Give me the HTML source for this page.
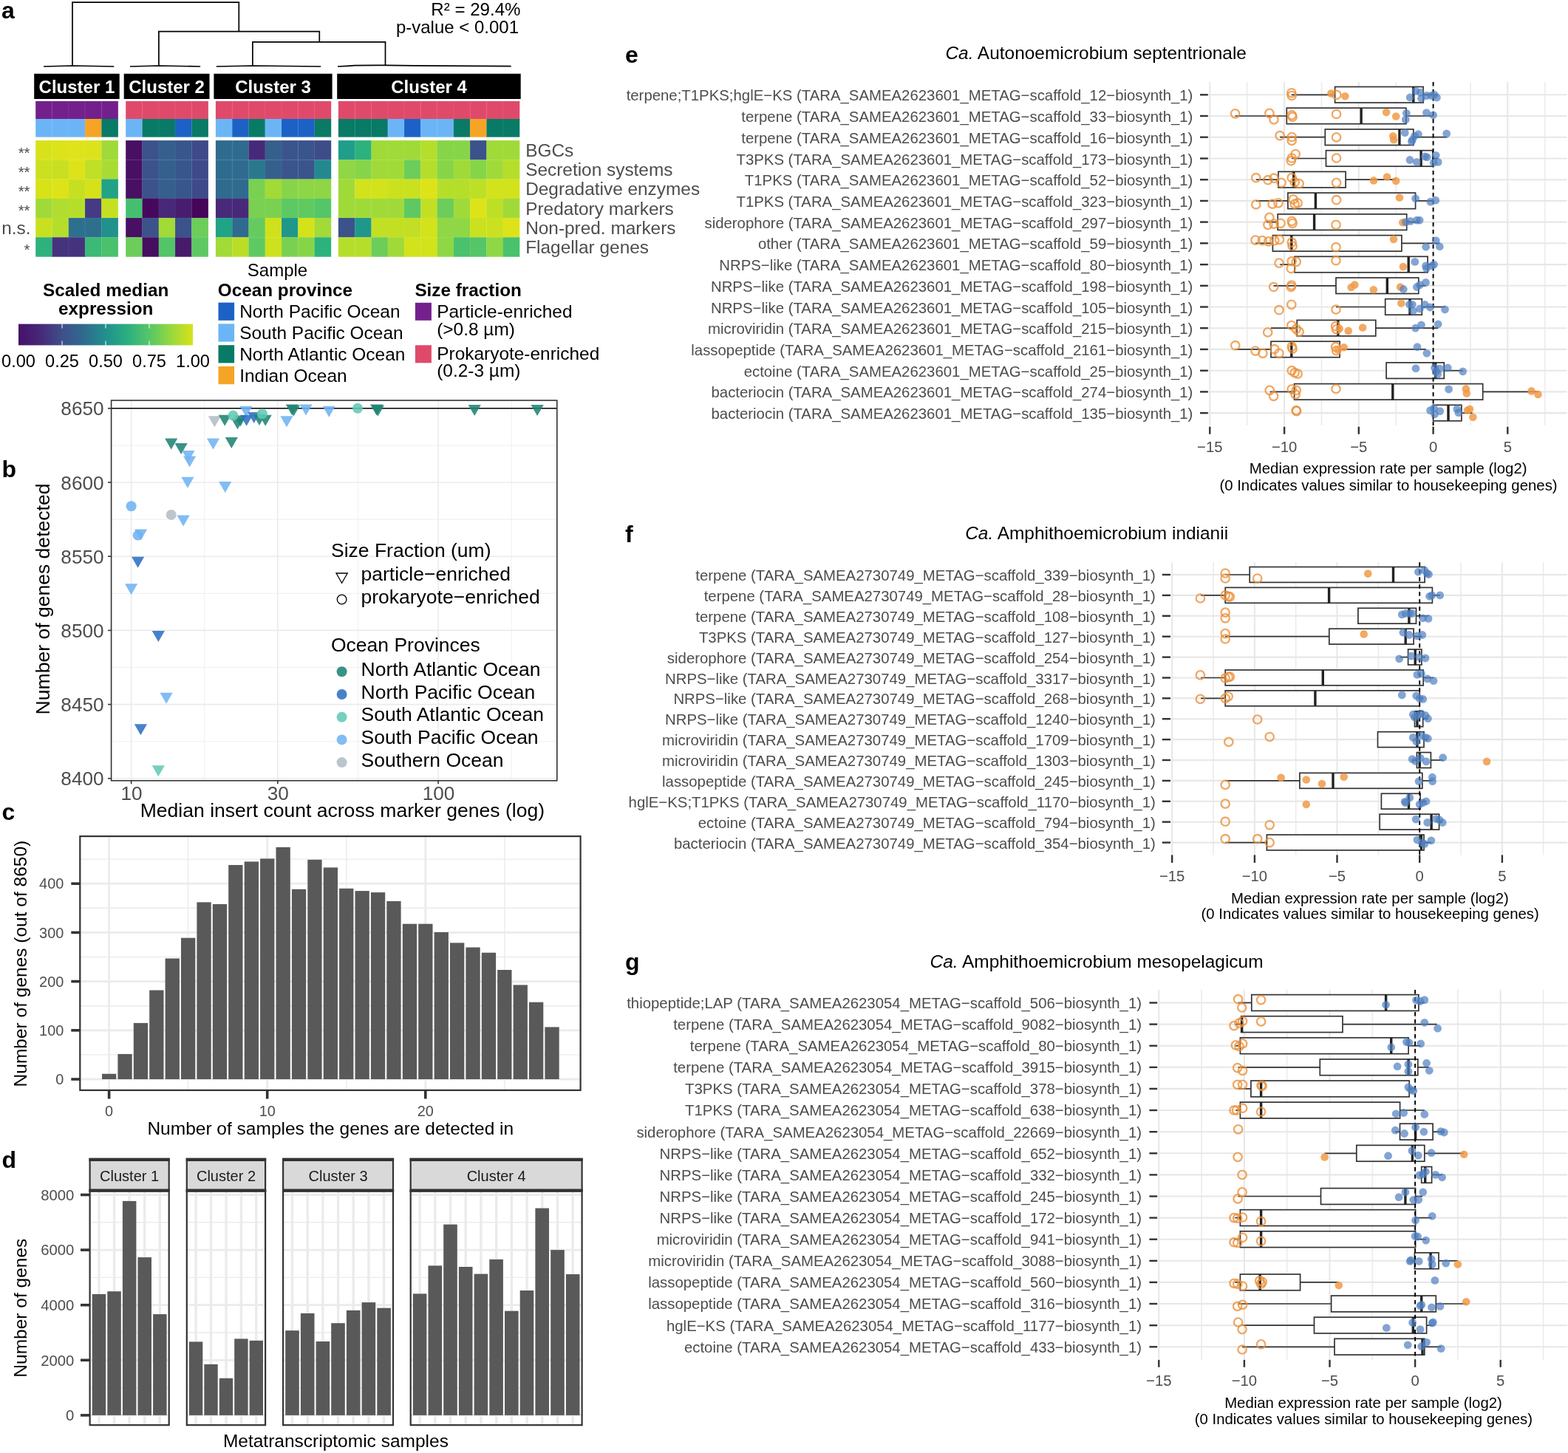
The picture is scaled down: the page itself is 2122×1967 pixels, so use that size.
<!DOCTYPE html>
<html><head><meta charset="utf-8"><title>Figure</title>
<style>
html,body{margin:0;padding:0;background:#fff;}
svg{display:block;}
text{font-family:'Liberation Sans', Arial, Helvetica, sans-serif;}
</style></head>
<body>
<svg width="2122" height="1967" viewBox="0 0 2122 1967">
<rect x="0" y="0" width="2122" height="1967" fill="#fff"/>
<text x="2.0" y="24.8" font-size="32" font-weight="bold">a</text>
<text x="2.5" y="645.8" font-size="32" font-weight="bold">b</text>
<text x="2.5" y="1110.0" font-size="32" font-weight="bold">c</text>
<text x="2.5" y="1580.8" font-size="32" font-weight="bold">d</text>
<text x="846.0" y="84.8" font-size="32" font-weight="bold">e</text>
<text x="846.0" y="733.8" font-size="32" font-weight="bold">f</text>
<text x="846.0" y="1313.0" font-size="32" font-weight="bold">g</text>
<polyline points="98.0,89.5 98.0,3.2 323.3,3.2 323.3,42.7" fill="none" stroke="#000" stroke-width="1.7"/>
<polyline points="214.9,89.5 214.9,42.7 432.3,42.7 432.3,56.8" fill="none" stroke="#000" stroke-width="1.7"/>
<polyline points="341.9,89.5 341.9,56.8 521.5,56.8 521.5,88.5" fill="none" stroke="#000" stroke-width="1.7"/>
<polyline points="59.1,90.0 98.0,89.0 154.3,90.0" fill="none" stroke="#000" stroke-width="1.7"/>
<polyline points="176.0,90.0 214.9,89.0 271.1,90.0" fill="none" stroke="#000" stroke-width="1.7"/>
<polyline points="292.8,90.0 341.9,89.0 434.2,90.0" fill="none" stroke="#000" stroke-width="1.7"/>
<polyline points="457.0,90.0 470.0,89.3 480.0,88.6 521.5,88.3 560.0,88.8 600.0,89.2 691.6,89.6" fill="none" stroke="#000" stroke-width="1.7"/>
<rect x="46.2" y="99.8" width="115.5" height="34.2" fill="#000"/>
<text x="103.9" y="125.6" font-size="24.0" text-anchor="middle" font-weight="bold" fill="#fff">Cluster 1</text>
<rect x="167.7" y="99.8" width="115.8" height="34.2" fill="#000"/>
<text x="225.6" y="125.6" font-size="24.0" text-anchor="middle" font-weight="bold" fill="#fff">Cluster 2</text>
<rect x="289.4" y="99.8" width="160.2" height="34.2" fill="#000"/>
<text x="369.5" y="125.6" font-size="24.0" text-anchor="middle" font-weight="bold" fill="#fff">Cluster 3</text>
<rect x="456.2" y="99.8" width="248.5" height="34.2" fill="#000"/>
<text x="580.5" y="125.6" font-size="24.0" text-anchor="middle" font-weight="bold" fill="#fff">Cluster 4</text>
<rect x="48.2" y="136.9" width="22.6" height="24.2" fill="#74208c"/>
<rect x="48.2" y="161.0" width="22.6" height="24.6" fill="#6bb5f7"/>
<rect x="48.2" y="190.1" width="22.6" height="26.5" fill="#d8e21b"/>
<rect x="48.2" y="216.3" width="22.6" height="26.5" fill="#cbe01e"/>
<rect x="48.2" y="242.5" width="22.6" height="26.5" fill="#d8e219"/>
<rect x="48.2" y="268.8" width="22.6" height="26.5" fill="#a0da39"/>
<rect x="48.2" y="295.0" width="22.6" height="26.5" fill="#c9e020"/>
<rect x="48.2" y="321.2" width="22.6" height="26.5" fill="#2db27d"/>
<rect x="70.5" y="136.9" width="22.6" height="24.2" fill="#74208c"/>
<rect x="70.5" y="161.0" width="22.6" height="24.6" fill="#6bb5f7"/>
<rect x="70.5" y="190.1" width="22.6" height="26.5" fill="#dce31a"/>
<rect x="70.5" y="216.3" width="22.6" height="26.5" fill="#c8e020"/>
<rect x="70.5" y="242.5" width="22.6" height="26.5" fill="#dde318"/>
<rect x="70.5" y="268.8" width="22.6" height="26.5" fill="#b0dd2f"/>
<rect x="70.5" y="295.0" width="22.6" height="26.5" fill="#b5de2b"/>
<rect x="70.5" y="321.2" width="22.6" height="26.5" fill="#46337e"/>
<rect x="92.8" y="136.9" width="22.6" height="24.2" fill="#74208c"/>
<rect x="92.8" y="161.0" width="22.6" height="24.6" fill="#6bb5f7"/>
<rect x="92.8" y="190.1" width="22.6" height="26.5" fill="#dfe31a"/>
<rect x="92.8" y="216.3" width="22.6" height="26.5" fill="#dde318"/>
<rect x="92.8" y="242.5" width="22.6" height="26.5" fill="#c6e021"/>
<rect x="92.8" y="268.8" width="22.6" height="26.5" fill="#b5de2b"/>
<rect x="92.8" y="295.0" width="22.6" height="26.5" fill="#2d708e"/>
<rect x="92.8" y="321.2" width="22.6" height="26.5" fill="#46337e"/>
<rect x="115.0" y="136.9" width="22.6" height="24.2" fill="#74208c"/>
<rect x="115.0" y="161.0" width="22.6" height="24.6" fill="#f6a425"/>
<rect x="115.0" y="190.1" width="22.6" height="26.5" fill="#dde31b"/>
<rect x="115.0" y="216.3" width="22.6" height="26.5" fill="#c0df25"/>
<rect x="115.0" y="242.5" width="22.6" height="26.5" fill="#d5e21a"/>
<rect x="115.0" y="268.8" width="22.6" height="26.5" fill="#443b84"/>
<rect x="115.0" y="295.0" width="22.6" height="26.5" fill="#2d708e"/>
<rect x="115.0" y="321.2" width="22.6" height="26.5" fill="#3aba76"/>
<rect x="137.3" y="136.9" width="22.6" height="24.2" fill="#74208c"/>
<rect x="137.3" y="161.0" width="22.6" height="24.6" fill="#097a66"/>
<rect x="137.3" y="190.1" width="22.6" height="26.5" fill="#a0da39"/>
<rect x="137.3" y="216.3" width="22.6" height="26.5" fill="#a8dc35"/>
<rect x="137.3" y="242.5" width="22.6" height="26.5" fill="#22a386"/>
<rect x="137.3" y="268.8" width="22.6" height="26.5" fill="#c5e021"/>
<rect x="137.3" y="295.0" width="22.6" height="26.5" fill="#21918c"/>
<rect x="137.3" y="321.2" width="22.6" height="26.5" fill="#4ac16d"/>
<line x1="70.5" y1="136.9" x2="70.5" y2="185.6" stroke="#fff" stroke-width="0.6" stroke-opacity="0.15"/>
<line x1="70.5" y1="190.1" x2="70.5" y2="347.4" stroke="#fff" stroke-width="0.6" stroke-opacity="0.12"/>
<line x1="92.8" y1="136.9" x2="92.8" y2="185.6" stroke="#fff" stroke-width="0.6" stroke-opacity="0.15"/>
<line x1="92.8" y1="190.1" x2="92.8" y2="347.4" stroke="#fff" stroke-width="0.6" stroke-opacity="0.12"/>
<line x1="115.0" y1="136.9" x2="115.0" y2="185.6" stroke="#fff" stroke-width="0.6" stroke-opacity="0.15"/>
<line x1="115.0" y1="190.1" x2="115.0" y2="347.4" stroke="#fff" stroke-width="0.6" stroke-opacity="0.12"/>
<line x1="137.3" y1="136.9" x2="137.3" y2="185.6" stroke="#fff" stroke-width="0.6" stroke-opacity="0.15"/>
<line x1="137.3" y1="190.1" x2="137.3" y2="347.4" stroke="#fff" stroke-width="0.6" stroke-opacity="0.12"/>
<line x1="48.2" y1="216.3" x2="159.6" y2="216.3" stroke="#fff" stroke-width="0.6" stroke-opacity="0.1"/>
<line x1="48.2" y1="242.5" x2="159.6" y2="242.5" stroke="#fff" stroke-width="0.6" stroke-opacity="0.1"/>
<line x1="48.2" y1="268.8" x2="159.6" y2="268.8" stroke="#fff" stroke-width="0.6" stroke-opacity="0.1"/>
<line x1="48.2" y1="295.0" x2="159.6" y2="295.0" stroke="#fff" stroke-width="0.6" stroke-opacity="0.1"/>
<line x1="48.2" y1="321.2" x2="159.6" y2="321.2" stroke="#fff" stroke-width="0.6" stroke-opacity="0.1"/>
<rect x="170.2" y="136.9" width="22.6" height="24.2" fill="#e04a6a"/>
<rect x="170.2" y="161.0" width="22.6" height="24.6" fill="#6bb5f7"/>
<rect x="170.2" y="190.1" width="22.6" height="26.5" fill="#471063"/>
<rect x="170.2" y="216.3" width="22.6" height="26.5" fill="#471063"/>
<rect x="170.2" y="242.5" width="22.6" height="26.5" fill="#471063"/>
<rect x="170.2" y="268.8" width="22.6" height="26.5" fill="#44bf70"/>
<rect x="170.2" y="295.0" width="22.6" height="26.5" fill="#471063"/>
<rect x="170.2" y="321.2" width="22.6" height="26.5" fill="#6ccd5a"/>
<rect x="192.5" y="136.9" width="22.6" height="24.2" fill="#e04a6a"/>
<rect x="192.5" y="161.0" width="22.6" height="24.6" fill="#097a66"/>
<rect x="192.5" y="190.1" width="22.6" height="26.5" fill="#3b528b"/>
<rect x="192.5" y="216.3" width="22.6" height="26.5" fill="#3b528b"/>
<rect x="192.5" y="242.5" width="22.6" height="26.5" fill="#3b528b"/>
<rect x="192.5" y="268.8" width="22.6" height="26.5" fill="#46085c"/>
<rect x="192.5" y="295.0" width="22.6" height="26.5" fill="#3b528b"/>
<rect x="192.5" y="321.2" width="22.6" height="26.5" fill="#470d60"/>
<rect x="214.8" y="136.9" width="22.6" height="24.2" fill="#e04a6a"/>
<rect x="214.8" y="161.0" width="22.6" height="24.6" fill="#097a66"/>
<rect x="214.8" y="190.1" width="22.6" height="26.5" fill="#355f8d"/>
<rect x="214.8" y="216.3" width="22.6" height="26.5" fill="#355f8d"/>
<rect x="214.8" y="242.5" width="22.6" height="26.5" fill="#355f8d"/>
<rect x="214.8" y="268.8" width="22.6" height="26.5" fill="#482878"/>
<rect x="214.8" y="295.0" width="22.6" height="26.5" fill="#a2da37"/>
<rect x="214.8" y="321.2" width="22.6" height="26.5" fill="#52c569"/>
<rect x="237.0" y="136.9" width="22.6" height="24.2" fill="#e04a6a"/>
<rect x="237.0" y="161.0" width="22.6" height="24.6" fill="#1c62c6"/>
<rect x="237.0" y="190.1" width="22.6" height="26.5" fill="#39568c"/>
<rect x="237.0" y="216.3" width="22.6" height="26.5" fill="#39568c"/>
<rect x="237.0" y="242.5" width="22.6" height="26.5" fill="#39568c"/>
<rect x="237.0" y="268.8" width="22.6" height="26.5" fill="#481d6f"/>
<rect x="237.0" y="295.0" width="22.6" height="26.5" fill="#3b528b"/>
<rect x="237.0" y="321.2" width="22.6" height="26.5" fill="#481a6c"/>
<rect x="259.3" y="136.9" width="22.6" height="24.2" fill="#e04a6a"/>
<rect x="259.3" y="161.0" width="22.6" height="24.6" fill="#097a66"/>
<rect x="259.3" y="190.1" width="22.6" height="26.5" fill="#3e4a89"/>
<rect x="259.3" y="216.3" width="22.6" height="26.5" fill="#3e4a89"/>
<rect x="259.3" y="242.5" width="22.6" height="26.5" fill="#3e4a89"/>
<rect x="259.3" y="268.8" width="22.6" height="26.5" fill="#450559"/>
<rect x="259.3" y="295.0" width="22.6" height="26.5" fill="#6ccd5a"/>
<rect x="259.3" y="321.2" width="22.6" height="26.5" fill="#5ec962"/>
<line x1="192.5" y1="136.9" x2="192.5" y2="185.6" stroke="#fff" stroke-width="0.6" stroke-opacity="0.15"/>
<line x1="192.5" y1="190.1" x2="192.5" y2="347.4" stroke="#fff" stroke-width="0.6" stroke-opacity="0.12"/>
<line x1="214.8" y1="136.9" x2="214.8" y2="185.6" stroke="#fff" stroke-width="0.6" stroke-opacity="0.15"/>
<line x1="214.8" y1="190.1" x2="214.8" y2="347.4" stroke="#fff" stroke-width="0.6" stroke-opacity="0.12"/>
<line x1="237.0" y1="136.9" x2="237.0" y2="185.6" stroke="#fff" stroke-width="0.6" stroke-opacity="0.15"/>
<line x1="237.0" y1="190.1" x2="237.0" y2="347.4" stroke="#fff" stroke-width="0.6" stroke-opacity="0.12"/>
<line x1="259.3" y1="136.9" x2="259.3" y2="185.6" stroke="#fff" stroke-width="0.6" stroke-opacity="0.15"/>
<line x1="259.3" y1="190.1" x2="259.3" y2="347.4" stroke="#fff" stroke-width="0.6" stroke-opacity="0.12"/>
<line x1="170.2" y1="216.3" x2="281.6" y2="216.3" stroke="#fff" stroke-width="0.6" stroke-opacity="0.1"/>
<line x1="170.2" y1="242.5" x2="281.6" y2="242.5" stroke="#fff" stroke-width="0.6" stroke-opacity="0.1"/>
<line x1="170.2" y1="268.8" x2="281.6" y2="268.8" stroke="#fff" stroke-width="0.6" stroke-opacity="0.1"/>
<line x1="170.2" y1="295.0" x2="281.6" y2="295.0" stroke="#fff" stroke-width="0.6" stroke-opacity="0.1"/>
<line x1="170.2" y1="321.2" x2="281.6" y2="321.2" stroke="#fff" stroke-width="0.6" stroke-opacity="0.1"/>
<rect x="291.9" y="136.9" width="22.6" height="24.2" fill="#e04a6a"/>
<rect x="291.9" y="161.0" width="22.6" height="24.6" fill="#6bb5f7"/>
<rect x="291.9" y="190.1" width="22.6" height="26.5" fill="#2f6b8e"/>
<rect x="291.9" y="216.3" width="22.6" height="26.5" fill="#2f6b8e"/>
<rect x="291.9" y="242.5" width="22.6" height="26.5" fill="#2f6b8e"/>
<rect x="291.9" y="268.8" width="22.6" height="26.5" fill="#482979"/>
<rect x="291.9" y="295.0" width="22.6" height="26.5" fill="#20a386"/>
<rect x="291.9" y="321.2" width="22.6" height="26.5" fill="#a2da37"/>
<rect x="314.2" y="136.9" width="22.6" height="24.2" fill="#e04a6a"/>
<rect x="314.2" y="161.0" width="22.6" height="24.6" fill="#1c62c6"/>
<rect x="314.2" y="190.1" width="22.6" height="26.5" fill="#2f6b8e"/>
<rect x="314.2" y="216.3" width="22.6" height="26.5" fill="#2f6b8e"/>
<rect x="314.2" y="242.5" width="22.6" height="26.5" fill="#2f6b8e"/>
<rect x="314.2" y="268.8" width="22.6" height="26.5" fill="#482979"/>
<rect x="314.2" y="295.0" width="22.6" height="26.5" fill="#2f6b8e"/>
<rect x="314.2" y="321.2" width="22.6" height="26.5" fill="#bade28"/>
<rect x="336.5" y="136.9" width="22.6" height="24.2" fill="#e04a6a"/>
<rect x="336.5" y="161.0" width="22.6" height="24.6" fill="#097a66"/>
<rect x="336.5" y="190.1" width="22.6" height="26.5" fill="#482979"/>
<rect x="336.5" y="216.3" width="22.6" height="26.5" fill="#2a788e"/>
<rect x="336.5" y="242.5" width="22.6" height="26.5" fill="#7ad151"/>
<rect x="336.5" y="268.8" width="22.6" height="26.5" fill="#7ad151"/>
<rect x="336.5" y="295.0" width="22.6" height="26.5" fill="#65cb5e"/>
<rect x="336.5" y="321.2" width="22.6" height="26.5" fill="#5ec962"/>
<rect x="358.7" y="136.9" width="22.6" height="24.2" fill="#e04a6a"/>
<rect x="358.7" y="161.0" width="22.6" height="24.6" fill="#6bb5f7"/>
<rect x="358.7" y="190.1" width="22.6" height="26.5" fill="#355f8d"/>
<rect x="358.7" y="216.3" width="22.6" height="26.5" fill="#355f8d"/>
<rect x="358.7" y="242.5" width="22.6" height="26.5" fill="#a2da37"/>
<rect x="358.7" y="268.8" width="22.6" height="26.5" fill="#7ad151"/>
<rect x="358.7" y="295.0" width="22.6" height="26.5" fill="#d0e11c"/>
<rect x="358.7" y="321.2" width="22.6" height="26.5" fill="#cde11d"/>
<rect x="381.0" y="136.9" width="22.6" height="24.2" fill="#e04a6a"/>
<rect x="381.0" y="161.0" width="22.6" height="24.6" fill="#1c62c6"/>
<rect x="381.0" y="190.1" width="22.6" height="26.5" fill="#3a548c"/>
<rect x="381.0" y="216.3" width="22.6" height="26.5" fill="#3a548c"/>
<rect x="381.0" y="242.5" width="22.6" height="26.5" fill="#86d549"/>
<rect x="381.0" y="268.8" width="22.6" height="26.5" fill="#5ec962"/>
<rect x="381.0" y="295.0" width="22.6" height="26.5" fill="#1f988b"/>
<rect x="381.0" y="321.2" width="22.6" height="26.5" fill="#7ad151"/>
<rect x="403.3" y="136.9" width="22.6" height="24.2" fill="#e04a6a"/>
<rect x="403.3" y="161.0" width="22.6" height="24.6" fill="#1c62c6"/>
<rect x="403.3" y="190.1" width="22.6" height="26.5" fill="#3a548c"/>
<rect x="403.3" y="216.3" width="22.6" height="26.5" fill="#3a548c"/>
<rect x="403.3" y="242.5" width="22.6" height="26.5" fill="#8ed645"/>
<rect x="403.3" y="268.8" width="22.6" height="26.5" fill="#60ca60"/>
<rect x="403.3" y="295.0" width="22.6" height="26.5" fill="#d5e21a"/>
<rect x="403.3" y="321.2" width="22.6" height="26.5" fill="#86d549"/>
<rect x="425.6" y="136.9" width="22.6" height="24.2" fill="#e04a6a"/>
<rect x="425.6" y="161.0" width="22.6" height="24.6" fill="#097a66"/>
<rect x="425.6" y="190.1" width="22.6" height="26.5" fill="#3d4d8a"/>
<rect x="425.6" y="216.3" width="22.6" height="26.5" fill="#23898e"/>
<rect x="425.6" y="242.5" width="22.6" height="26.5" fill="#8ed645"/>
<rect x="425.6" y="268.8" width="22.6" height="26.5" fill="#55c667"/>
<rect x="425.6" y="295.0" width="22.6" height="26.5" fill="#a2da37"/>
<rect x="425.6" y="321.2" width="22.6" height="26.5" fill="#2db27d"/>
<line x1="314.2" y1="136.9" x2="314.2" y2="185.6" stroke="#fff" stroke-width="0.6" stroke-opacity="0.15"/>
<line x1="314.2" y1="190.1" x2="314.2" y2="347.4" stroke="#fff" stroke-width="0.6" stroke-opacity="0.12"/>
<line x1="336.5" y1="136.9" x2="336.5" y2="185.6" stroke="#fff" stroke-width="0.6" stroke-opacity="0.15"/>
<line x1="336.5" y1="190.1" x2="336.5" y2="347.4" stroke="#fff" stroke-width="0.6" stroke-opacity="0.12"/>
<line x1="358.7" y1="136.9" x2="358.7" y2="185.6" stroke="#fff" stroke-width="0.6" stroke-opacity="0.15"/>
<line x1="358.7" y1="190.1" x2="358.7" y2="347.4" stroke="#fff" stroke-width="0.6" stroke-opacity="0.12"/>
<line x1="381.0" y1="136.9" x2="381.0" y2="185.6" stroke="#fff" stroke-width="0.6" stroke-opacity="0.15"/>
<line x1="381.0" y1="190.1" x2="381.0" y2="347.4" stroke="#fff" stroke-width="0.6" stroke-opacity="0.12"/>
<line x1="403.3" y1="136.9" x2="403.3" y2="185.6" stroke="#fff" stroke-width="0.6" stroke-opacity="0.15"/>
<line x1="403.3" y1="190.1" x2="403.3" y2="347.4" stroke="#fff" stroke-width="0.6" stroke-opacity="0.12"/>
<line x1="425.6" y1="136.9" x2="425.6" y2="185.6" stroke="#fff" stroke-width="0.6" stroke-opacity="0.15"/>
<line x1="425.6" y1="190.1" x2="425.6" y2="347.4" stroke="#fff" stroke-width="0.6" stroke-opacity="0.12"/>
<line x1="291.9" y1="216.3" x2="447.9" y2="216.3" stroke="#fff" stroke-width="0.6" stroke-opacity="0.1"/>
<line x1="291.9" y1="242.5" x2="447.9" y2="242.5" stroke="#fff" stroke-width="0.6" stroke-opacity="0.1"/>
<line x1="291.9" y1="268.8" x2="447.9" y2="268.8" stroke="#fff" stroke-width="0.6" stroke-opacity="0.1"/>
<line x1="291.9" y1="295.0" x2="447.9" y2="295.0" stroke="#fff" stroke-width="0.6" stroke-opacity="0.1"/>
<line x1="291.9" y1="321.2" x2="447.9" y2="321.2" stroke="#fff" stroke-width="0.6" stroke-opacity="0.1"/>
<rect x="457.9" y="136.9" width="22.6" height="24.2" fill="#e04a6a"/>
<rect x="457.9" y="161.0" width="22.6" height="24.6" fill="#097a66"/>
<rect x="457.9" y="190.1" width="22.6" height="26.5" fill="#1f9e89"/>
<rect x="457.9" y="216.3" width="22.6" height="26.5" fill="#8fd744"/>
<rect x="457.9" y="242.5" width="22.6" height="26.5" fill="#a0da39"/>
<rect x="457.9" y="268.8" width="22.6" height="26.5" fill="#a0da39"/>
<rect x="457.9" y="295.0" width="22.6" height="26.5" fill="#3b528b"/>
<rect x="457.9" y="321.2" width="22.6" height="26.5" fill="#b5de2b"/>
<rect x="480.2" y="136.9" width="22.6" height="24.2" fill="#e04a6a"/>
<rect x="480.2" y="161.0" width="22.6" height="24.6" fill="#097a66"/>
<rect x="480.2" y="190.1" width="22.6" height="26.5" fill="#2db27d"/>
<rect x="480.2" y="216.3" width="22.6" height="26.5" fill="#86d549"/>
<rect x="480.2" y="242.5" width="22.6" height="26.5" fill="#d2e21b"/>
<rect x="480.2" y="268.8" width="22.6" height="26.5" fill="#a0da39"/>
<rect x="480.2" y="295.0" width="22.6" height="26.5" fill="#1f988b"/>
<rect x="480.2" y="321.2" width="22.6" height="26.5" fill="#b5de2b"/>
<rect x="502.5" y="136.9" width="22.6" height="24.2" fill="#e04a6a"/>
<rect x="502.5" y="161.0" width="22.6" height="24.6" fill="#097a66"/>
<rect x="502.5" y="190.1" width="22.6" height="26.5" fill="#a0da39"/>
<rect x="502.5" y="216.3" width="22.6" height="26.5" fill="#a0da39"/>
<rect x="502.5" y="242.5" width="22.6" height="26.5" fill="#d2e21b"/>
<rect x="502.5" y="268.8" width="22.6" height="26.5" fill="#a0da39"/>
<rect x="502.5" y="295.0" width="22.6" height="26.5" fill="#c2df23"/>
<rect x="502.5" y="321.2" width="22.6" height="26.5" fill="#6ccd5a"/>
<rect x="524.7" y="136.9" width="22.6" height="24.2" fill="#e04a6a"/>
<rect x="524.7" y="161.0" width="22.6" height="24.6" fill="#6bb5f7"/>
<rect x="524.7" y="190.1" width="22.6" height="26.5" fill="#a0da39"/>
<rect x="524.7" y="216.3" width="22.6" height="26.5" fill="#a0da39"/>
<rect x="524.7" y="242.5" width="22.6" height="26.5" fill="#cae11f"/>
<rect x="524.7" y="268.8" width="22.6" height="26.5" fill="#a0da39"/>
<rect x="524.7" y="295.0" width="22.6" height="26.5" fill="#c2df23"/>
<rect x="524.7" y="321.2" width="22.6" height="26.5" fill="#a0da39"/>
<rect x="547.0" y="136.9" width="22.6" height="24.2" fill="#e04a6a"/>
<rect x="547.0" y="161.0" width="22.6" height="24.6" fill="#1c62c6"/>
<rect x="547.0" y="190.1" width="22.6" height="26.5" fill="#a0da39"/>
<rect x="547.0" y="216.3" width="22.6" height="26.5" fill="#6ccd5a"/>
<rect x="547.0" y="242.5" width="22.6" height="26.5" fill="#cae11f"/>
<rect x="547.0" y="268.8" width="22.6" height="26.5" fill="#5ec962"/>
<rect x="547.0" y="295.0" width="22.6" height="26.5" fill="#c2df23"/>
<rect x="547.0" y="321.2" width="22.6" height="26.5" fill="#d2e21b"/>
<rect x="569.3" y="136.9" width="22.6" height="24.2" fill="#e04a6a"/>
<rect x="569.3" y="161.0" width="22.6" height="24.6" fill="#6bb5f7"/>
<rect x="569.3" y="190.1" width="22.6" height="26.5" fill="#b5de2b"/>
<rect x="569.3" y="216.3" width="22.6" height="26.5" fill="#b5de2b"/>
<rect x="569.3" y="242.5" width="22.6" height="26.5" fill="#dde318"/>
<rect x="569.3" y="268.8" width="22.6" height="26.5" fill="#c2df23"/>
<rect x="569.3" y="295.0" width="22.6" height="26.5" fill="#d2e21b"/>
<rect x="569.3" y="321.2" width="22.6" height="26.5" fill="#d2e21b"/>
<rect x="591.6" y="136.9" width="22.6" height="24.2" fill="#e04a6a"/>
<rect x="591.6" y="161.0" width="22.6" height="24.6" fill="#6bb5f7"/>
<rect x="591.6" y="190.1" width="22.6" height="26.5" fill="#86d549"/>
<rect x="591.6" y="216.3" width="22.6" height="26.5" fill="#86d549"/>
<rect x="591.6" y="242.5" width="22.6" height="26.5" fill="#b5de2b"/>
<rect x="591.6" y="268.8" width="22.6" height="26.5" fill="#6ccd5a"/>
<rect x="591.6" y="295.0" width="22.6" height="26.5" fill="#8fd744"/>
<rect x="591.6" y="321.2" width="22.6" height="26.5" fill="#8fd744"/>
<rect x="613.9" y="136.9" width="22.6" height="24.2" fill="#e04a6a"/>
<rect x="613.9" y="161.0" width="22.6" height="24.6" fill="#097a66"/>
<rect x="613.9" y="190.1" width="22.6" height="26.5" fill="#86d549"/>
<rect x="613.9" y="216.3" width="22.6" height="26.5" fill="#a0da39"/>
<rect x="613.9" y="242.5" width="22.6" height="26.5" fill="#b5de2b"/>
<rect x="613.9" y="268.8" width="22.6" height="26.5" fill="#a0da39"/>
<rect x="613.9" y="295.0" width="22.6" height="26.5" fill="#8fd744"/>
<rect x="613.9" y="321.2" width="22.6" height="26.5" fill="#4ac16d"/>
<rect x="636.1" y="136.9" width="22.6" height="24.2" fill="#e04a6a"/>
<rect x="636.1" y="161.0" width="22.6" height="24.6" fill="#f6a425"/>
<rect x="636.1" y="190.1" width="22.6" height="26.5" fill="#3b528b"/>
<rect x="636.1" y="216.3" width="22.6" height="26.5" fill="#86d549"/>
<rect x="636.1" y="242.5" width="22.6" height="26.5" fill="#bddf26"/>
<rect x="636.1" y="268.8" width="22.6" height="26.5" fill="#dde318"/>
<rect x="636.1" y="295.0" width="22.6" height="26.5" fill="#cae11f"/>
<rect x="636.1" y="321.2" width="22.6" height="26.5" fill="#55c667"/>
<rect x="658.4" y="136.9" width="22.6" height="24.2" fill="#e04a6a"/>
<rect x="658.4" y="161.0" width="22.6" height="24.6" fill="#097a66"/>
<rect x="658.4" y="190.1" width="22.6" height="26.5" fill="#a0da39"/>
<rect x="658.4" y="216.3" width="22.6" height="26.5" fill="#a0da39"/>
<rect x="658.4" y="242.5" width="22.6" height="26.5" fill="#d2e21b"/>
<rect x="658.4" y="268.8" width="22.6" height="26.5" fill="#bddf26"/>
<rect x="658.4" y="295.0" width="22.6" height="26.5" fill="#cae11f"/>
<rect x="658.4" y="321.2" width="22.6" height="26.5" fill="#8fd744"/>
<rect x="680.7" y="136.9" width="22.6" height="24.2" fill="#e04a6a"/>
<rect x="680.7" y="161.0" width="22.6" height="24.6" fill="#097a66"/>
<rect x="680.7" y="190.1" width="22.6" height="26.5" fill="#a0da39"/>
<rect x="680.7" y="216.3" width="22.6" height="26.5" fill="#b5de2b"/>
<rect x="680.7" y="242.5" width="22.6" height="26.5" fill="#d2e21b"/>
<rect x="680.7" y="268.8" width="22.6" height="26.5" fill="#a0da39"/>
<rect x="680.7" y="295.0" width="22.6" height="26.5" fill="#dde318"/>
<rect x="680.7" y="321.2" width="22.6" height="26.5" fill="#4ac16d"/>
<line x1="480.2" y1="136.9" x2="480.2" y2="185.6" stroke="#fff" stroke-width="0.6" stroke-opacity="0.15"/>
<line x1="480.2" y1="190.1" x2="480.2" y2="347.4" stroke="#fff" stroke-width="0.6" stroke-opacity="0.12"/>
<line x1="502.5" y1="136.9" x2="502.5" y2="185.6" stroke="#fff" stroke-width="0.6" stroke-opacity="0.15"/>
<line x1="502.5" y1="190.1" x2="502.5" y2="347.4" stroke="#fff" stroke-width="0.6" stroke-opacity="0.12"/>
<line x1="524.7" y1="136.9" x2="524.7" y2="185.6" stroke="#fff" stroke-width="0.6" stroke-opacity="0.15"/>
<line x1="524.7" y1="190.1" x2="524.7" y2="347.4" stroke="#fff" stroke-width="0.6" stroke-opacity="0.12"/>
<line x1="547.0" y1="136.9" x2="547.0" y2="185.6" stroke="#fff" stroke-width="0.6" stroke-opacity="0.15"/>
<line x1="547.0" y1="190.1" x2="547.0" y2="347.4" stroke="#fff" stroke-width="0.6" stroke-opacity="0.12"/>
<line x1="569.3" y1="136.9" x2="569.3" y2="185.6" stroke="#fff" stroke-width="0.6" stroke-opacity="0.15"/>
<line x1="569.3" y1="190.1" x2="569.3" y2="347.4" stroke="#fff" stroke-width="0.6" stroke-opacity="0.12"/>
<line x1="591.6" y1="136.9" x2="591.6" y2="185.6" stroke="#fff" stroke-width="0.6" stroke-opacity="0.15"/>
<line x1="591.6" y1="190.1" x2="591.6" y2="347.4" stroke="#fff" stroke-width="0.6" stroke-opacity="0.12"/>
<line x1="613.9" y1="136.9" x2="613.9" y2="185.6" stroke="#fff" stroke-width="0.6" stroke-opacity="0.15"/>
<line x1="613.9" y1="190.1" x2="613.9" y2="347.4" stroke="#fff" stroke-width="0.6" stroke-opacity="0.12"/>
<line x1="636.1" y1="136.9" x2="636.1" y2="185.6" stroke="#fff" stroke-width="0.6" stroke-opacity="0.15"/>
<line x1="636.1" y1="190.1" x2="636.1" y2="347.4" stroke="#fff" stroke-width="0.6" stroke-opacity="0.12"/>
<line x1="658.4" y1="136.9" x2="658.4" y2="185.6" stroke="#fff" stroke-width="0.6" stroke-opacity="0.15"/>
<line x1="658.4" y1="190.1" x2="658.4" y2="347.4" stroke="#fff" stroke-width="0.6" stroke-opacity="0.12"/>
<line x1="680.7" y1="136.9" x2="680.7" y2="185.6" stroke="#fff" stroke-width="0.6" stroke-opacity="0.15"/>
<line x1="680.7" y1="190.1" x2="680.7" y2="347.4" stroke="#fff" stroke-width="0.6" stroke-opacity="0.12"/>
<line x1="457.9" y1="216.3" x2="703.0" y2="216.3" stroke="#fff" stroke-width="0.6" stroke-opacity="0.1"/>
<line x1="457.9" y1="242.5" x2="703.0" y2="242.5" stroke="#fff" stroke-width="0.6" stroke-opacity="0.1"/>
<line x1="457.9" y1="268.8" x2="703.0" y2="268.8" stroke="#fff" stroke-width="0.6" stroke-opacity="0.1"/>
<line x1="457.9" y1="295.0" x2="703.0" y2="295.0" stroke="#fff" stroke-width="0.6" stroke-opacity="0.1"/>
<line x1="457.9" y1="321.2" x2="703.0" y2="321.2" stroke="#fff" stroke-width="0.6" stroke-opacity="0.1"/>
<text x="711.2" y="211.8" font-size="24.4" fill="#4d4d4d">BGCs</text>
<text x="40.6" y="213.5" font-size="20.5" text-anchor="end" fill="#4d4d4d">**</text>
<text x="711.2" y="238.0" font-size="24.4" fill="#4d4d4d">Secretion systems</text>
<text x="40.6" y="239.7" font-size="20.5" text-anchor="end" fill="#4d4d4d">**</text>
<text x="711.2" y="264.2" font-size="24.4" fill="#4d4d4d">Degradative enzymes</text>
<text x="40.6" y="265.9" font-size="20.5" text-anchor="end" fill="#4d4d4d">**</text>
<text x="711.2" y="290.5" font-size="24.4" fill="#4d4d4d">Predatory markers</text>
<text x="40.6" y="292.2" font-size="20.5" text-anchor="end" fill="#4d4d4d">**</text>
<text x="711.2" y="316.7" font-size="24.4" fill="#4d4d4d">Non-pred. markers</text>
<text x="41.5" y="316.7" font-size="24.4" text-anchor="end" fill="#4d4d4d">n.s.</text>
<text x="711.2" y="342.9" font-size="24.4" fill="#4d4d4d">Flagellar genes</text>
<text x="40.6" y="344.6" font-size="20.5" text-anchor="end" fill="#4d4d4d">*</text>
<text x="704.5" y="20.5" font-size="24.1" text-anchor="end">R² = 29.4%</text>
<text x="702.0" y="45.0" font-size="24.0" text-anchor="end">p-value &lt; 0.001</text>
<text x="375.5" y="373.7" font-size="24.0" text-anchor="middle">Sample</text>
<defs><linearGradient id="vir" x1="0" x2="1" y1="0" y2="0"><stop offset="0" stop-color="#46106a"/><stop offset="0.125" stop-color="#482878"/><stop offset="0.25" stop-color="#3e4f8a"/><stop offset="0.375" stop-color="#2f6b8e"/><stop offset="0.5" stop-color="#21908d"/><stop offset="0.625" stop-color="#2bae80"/><stop offset="0.75" stop-color="#56c667"/><stop offset="0.875" stop-color="#98d83e"/><stop offset="1" stop-color="#d8e219"/></linearGradient></defs>
<rect x="25.0" y="438.6" width="236.0" height="28.8" fill="url(#vir)"/>
<line x1="84.0" y1="438.6" x2="84.0" y2="444.5" stroke="#fff" stroke-width="1"/>
<line x1="84.0" y1="461.5" x2="84.0" y2="467.4" stroke="#fff" stroke-width="1"/>
<line x1="143.0" y1="438.6" x2="143.0" y2="444.5" stroke="#fff" stroke-width="1"/>
<line x1="143.0" y1="461.5" x2="143.0" y2="467.4" stroke="#fff" stroke-width="1"/>
<line x1="202.0" y1="438.6" x2="202.0" y2="444.5" stroke="#fff" stroke-width="1"/>
<line x1="202.0" y1="461.5" x2="202.0" y2="467.4" stroke="#fff" stroke-width="1"/>
<text x="25.0" y="497.0" font-size="23.6" text-anchor="middle">0.00</text>
<text x="84.0" y="497.0" font-size="23.6" text-anchor="middle">0.25</text>
<text x="143.0" y="497.0" font-size="23.6" text-anchor="middle">0.50</text>
<text x="202.0" y="497.0" font-size="23.6" text-anchor="middle">0.75</text>
<text x="261.0" y="497.0" font-size="23.6" text-anchor="middle">1.00</text>
<text x="143.2" y="401.0" font-size="24.3" text-anchor="middle" font-weight="bold">Scaled median</text>
<text x="143.2" y="426.0" font-size="24.3" text-anchor="middle" font-weight="bold">expression</text>
<text x="294.8" y="401.0" font-size="24.3" font-weight="bold">Ocean province</text>
<rect x="295.5" y="409.6" width="21.6" height="24.2" fill="#1c62c6"/>
<text x="324.2" y="430.3" font-size="24.45">North Pacific Ocean</text>
<rect x="295.5" y="438.4" width="21.6" height="24.2" fill="#6bb5f7"/>
<text x="324.2" y="459.1" font-size="24.45">South Pacific Ocean</text>
<rect x="295.5" y="467.2" width="21.6" height="24.2" fill="#097a66"/>
<text x="324.2" y="487.9" font-size="24.45">North Atlantic Ocean</text>
<rect x="295.5" y="496.0" width="21.6" height="24.2" fill="#f6a425"/>
<text x="324.2" y="516.7" font-size="24.45">Indian Ocean</text>
<text x="561.4" y="401.0" font-size="24.3" font-weight="bold">Size fraction</text>
<rect x="561.9" y="409.8" width="22.0" height="24.0" fill="#74208c"/>
<text x="591.2" y="430.3" font-size="24.45">Particle-enriched</text>
<text x="591.2" y="453.6" font-size="24.45">(&gt;0.8 µm)</text>
<rect x="561.9" y="467.3" width="22.0" height="24.0" fill="#e04a6a"/>
<text x="591.2" y="486.8" font-size="24.45">Prokaryote-enriched</text>
<text x="591.2" y="509.8" font-size="24.45">(0.2-3 µm)</text>
<line x1="150.6" y1="1003.7" x2="753.8" y2="1003.7" stroke="#ebebeb" stroke-width="0.8"/>
<line x1="150.6" y1="903.5" x2="753.8" y2="903.5" stroke="#ebebeb" stroke-width="0.8"/>
<line x1="150.6" y1="803.3" x2="753.8" y2="803.3" stroke="#ebebeb" stroke-width="0.8"/>
<line x1="150.6" y1="703.1" x2="753.8" y2="703.1" stroke="#ebebeb" stroke-width="0.8"/>
<line x1="150.6" y1="602.9" x2="753.8" y2="602.9" stroke="#ebebeb" stroke-width="0.8"/>
<line x1="276.7" y1="542.0" x2="276.7" y2="1056.8" stroke="#ebebeb" stroke-width="0.8"/>
<line x1="484.5" y1="542.0" x2="484.5" y2="1056.8" stroke="#ebebeb" stroke-width="0.8"/>
<line x1="692.2" y1="542.0" x2="692.2" y2="1056.8" stroke="#ebebeb" stroke-width="0.8"/>
<line x1="150.6" y1="1053.8" x2="753.8" y2="1053.8" stroke="#ebebeb" stroke-width="1.6"/>
<line x1="150.6" y1="953.6" x2="753.8" y2="953.6" stroke="#ebebeb" stroke-width="1.6"/>
<line x1="150.6" y1="853.4" x2="753.8" y2="853.4" stroke="#ebebeb" stroke-width="1.6"/>
<line x1="150.6" y1="753.2" x2="753.8" y2="753.2" stroke="#ebebeb" stroke-width="1.6"/>
<line x1="150.6" y1="653.0" x2="753.8" y2="653.0" stroke="#ebebeb" stroke-width="1.6"/>
<line x1="150.6" y1="552.8" x2="753.8" y2="552.8" stroke="#ebebeb" stroke-width="1.6"/>
<line x1="177.6" y1="542.0" x2="177.6" y2="1056.8" stroke="#ebebeb" stroke-width="1.6"/>
<line x1="375.8" y1="542.0" x2="375.8" y2="1056.8" stroke="#ebebeb" stroke-width="1.6"/>
<line x1="593.1" y1="542.0" x2="593.1" y2="1056.8" stroke="#ebebeb" stroke-width="1.6"/>
<line x1="150.6" y1="552.8" x2="753.8" y2="552.8" stroke="#000" stroke-width="1.6"/>
<polygon points="223.1,593.4 240.3,593.4 231.7,608.4" fill="#1f8474" fill-opacity="0.88"/>
<polygon points="236.5,599.9 253.7,599.9 245.1,614.9" fill="#1f8474" fill-opacity="0.88"/>
<polygon points="246.3,610.0 263.5,610.0 254.9,625.0" fill="#70b3f4" fill-opacity="0.88"/>
<polygon points="248.0,617.5 265.2,617.5 256.6,632.5" fill="#70b3f4" fill-opacity="0.88"/>
<polygon points="245.3,645.8 262.5,645.8 253.9,660.8" fill="#70b3f4" fill-opacity="0.88"/>
<polygon points="279.9,593.4 297.1,593.4 288.5,608.4" fill="#70b3f4" fill-opacity="0.88"/>
<polygon points="304.7,591.9 321.9,591.9 313.3,606.9" fill="#1f8474" fill-opacity="0.88"/>
<polygon points="296.1,652.1 313.3,652.1 304.7,667.1" fill="#70b3f4" fill-opacity="0.88"/>
<polygon points="281.8,563.3 299.0,563.3 290.4,578.3" fill="#b3bdc5" fill-opacity="0.88"/>
<polygon points="295.6,561.8 312.8,561.8 304.2,576.8" fill="#1f8474" fill-opacity="0.88"/>
<polygon points="312.9,566.3 330.1,566.3 321.5,581.3" fill="#1f8474" fill-opacity="0.88"/>
<polygon points="316.7,562.6 333.9,562.6 325.3,577.6" fill="#1f8474" fill-opacity="0.88"/>
<polygon points="324.5,549.8 341.7,549.8 333.1,564.8" fill="#70b3f4" fill-opacity="0.88"/>
<polygon points="325.0,561.8 342.2,561.8 333.6,576.8" fill="#2f6fc4" fill-opacity="0.88"/>
<polygon points="335.1,558.0 352.3,558.0 343.7,573.0" fill="#2f6fc4" fill-opacity="0.88"/>
<polygon points="342.3,561.1 359.5,561.1 350.9,576.1" fill="#1f8474" fill-opacity="0.88"/>
<polygon points="350.6,561.8 367.8,561.8 359.2,576.8" fill="#1f8474" fill-opacity="0.88"/>
<polygon points="379.4,563.3 396.6,563.3 388.0,578.3" fill="#70b3f4" fill-opacity="0.88"/>
<polygon points="386.7,547.5 403.9,547.5 395.3,562.5" fill="#1f8474" fill-opacity="0.88"/>
<polygon points="388.9,548.5 406.1,548.5 397.5,563.5" fill="#1f8474" fill-opacity="0.88"/>
<polygon points="405.5,547.5 422.7,547.5 414.1,562.5" fill="#70b3f4" fill-opacity="0.88"/>
<polygon points="436.6,549.8 453.8,549.8 445.2,564.8" fill="#70b3f4" fill-opacity="0.88"/>
<polygon points="501.0,547.5 518.2,547.5 509.6,562.5" fill="#1f8474" fill-opacity="0.88"/>
<polygon points="502.9,548.5 520.1,548.5 511.5,563.5" fill="#1f8474" fill-opacity="0.88"/>
<polygon points="633.6,548.0 650.8,548.0 642.2,563.0" fill="#1f8474" fill-opacity="0.88"/>
<polygon points="718.5,548.0 735.7,548.0 727.1,563.0" fill="#1f8474" fill-opacity="0.88"/>
<polygon points="239.5,697.5 256.7,697.5 248.1,712.5" fill="#70b3f4" fill-opacity="0.88"/>
<polygon points="182.0,716.6 199.2,716.6 190.6,731.6" fill="#70b3f4" fill-opacity="0.88"/>
<polygon points="178.0,753.7 195.2,753.7 186.6,768.7" fill="#2f6fc4" fill-opacity="0.88"/>
<polygon points="169.0,790.3 186.2,790.3 177.6,805.3" fill="#70b3f4" fill-opacity="0.88"/>
<polygon points="205.7,854.0 222.9,854.0 214.3,869.0" fill="#2f6fc4" fill-opacity="0.88"/>
<polygon points="216.5,937.8 233.7,937.8 225.1,952.8" fill="#70b3f4" fill-opacity="0.88"/>
<polygon points="181.8,980.3 199.0,980.3 190.4,995.3" fill="#2f6fc4" fill-opacity="0.88"/>
<polygon points="205.7,1036.3 222.9,1036.3 214.3,1051.3" fill="#62c9b5" fill-opacity="0.88"/>
<circle cx="315.5" cy="562.6" r="7.0" fill="#62c9b5" fill-opacity="0.88"/>
<circle cx="354.9" cy="560.3" r="7.0" fill="#62c9b5" fill-opacity="0.88"/>
<circle cx="484.0" cy="552.8" r="7.0" fill="#62c9b5" fill-opacity="0.88"/>
<circle cx="177.6" cy="685.3" r="7.0" fill="#70b3f4" fill-opacity="0.88"/>
<circle cx="186.6" cy="724.6" r="7.0" fill="#70b3f4" fill-opacity="0.88"/>
<circle cx="231.7" cy="696.9" r="7.0" fill="#b3bdc5" fill-opacity="0.88"/>
<rect x="150.6" y="542.0" width="603.2" height="514.8" fill="none" stroke="#333" stroke-width="1.6"/>
<line x1="146.0" y1="1053.8" x2="150.6" y2="1053.8" stroke="#333" stroke-width="1.6"/>
<text x="140.6" y="1063.3" font-size="26.2" text-anchor="end" fill="#4d4d4d">8400</text>
<line x1="146.0" y1="953.6" x2="150.6" y2="953.6" stroke="#333" stroke-width="1.6"/>
<text x="140.6" y="963.1" font-size="26.2" text-anchor="end" fill="#4d4d4d">8450</text>
<line x1="146.0" y1="853.4" x2="150.6" y2="853.4" stroke="#333" stroke-width="1.6"/>
<text x="140.6" y="862.9" font-size="26.2" text-anchor="end" fill="#4d4d4d">8500</text>
<line x1="146.0" y1="753.2" x2="150.6" y2="753.2" stroke="#333" stroke-width="1.6"/>
<text x="140.6" y="762.7" font-size="26.2" text-anchor="end" fill="#4d4d4d">8550</text>
<line x1="146.0" y1="653.0" x2="150.6" y2="653.0" stroke="#333" stroke-width="1.6"/>
<text x="140.6" y="662.5" font-size="26.2" text-anchor="end" fill="#4d4d4d">8600</text>
<line x1="146.0" y1="552.8" x2="150.6" y2="552.8" stroke="#333" stroke-width="1.6"/>
<text x="140.6" y="562.3" font-size="26.2" text-anchor="end" fill="#4d4d4d">8650</text>
<line x1="177.6" y1="1056.8" x2="177.6" y2="1061.3" stroke="#333" stroke-width="1.6"/>
<text x="178.0" y="1082.7" font-size="26.2" text-anchor="middle" fill="#4d4d4d">10</text>
<line x1="375.8" y1="1056.8" x2="375.8" y2="1061.3" stroke="#333" stroke-width="1.6"/>
<text x="376.2" y="1082.7" font-size="26.2" text-anchor="middle" fill="#4d4d4d">30</text>
<line x1="593.1" y1="1056.8" x2="593.1" y2="1061.3" stroke="#333" stroke-width="1.6"/>
<text x="593.5" y="1082.7" font-size="26.2" text-anchor="middle" fill="#4d4d4d">100</text>
<text x="463.4" y="1106.2" font-size="26.55" text-anchor="middle">Median insert count across marker genes (log)</text>
<text x="67.4" y="811.0" font-size="26.55" text-anchor="middle" transform="rotate(-90 67.4 811.0)">Number of genes detected</text>
<text x="448.0" y="753.6" font-size="26.5">Size Fraction (um)</text>
<polygon points="455.0,776.0 470.2,776.0 462.6,789.2" fill="none" stroke="#000" stroke-width="1.3" stroke-linejoin="miter"/>
<text x="488.5" y="786.4" font-size="26.5">particle−enriched</text>
<circle cx="462.6" cy="811.5" r="6.3" fill="none" stroke="#000" stroke-width="1.3"/>
<text x="488.5" y="817.3" font-size="26.5">prokaryote−enriched</text>
<text x="448.0" y="882.2" font-size="26.5">Ocean Provinces</text>
<circle cx="462.6" cy="909.3" r="7.0" fill="#1f8474" fill-opacity="0.88"/>
<text x="488.5" y="914.7" font-size="26.5">North Atlantic Ocean</text>
<circle cx="462.6" cy="940.0" r="7.0" fill="#2f6fc4" fill-opacity="0.88"/>
<text x="488.5" y="945.6" font-size="26.5">North Pacific Ocean</text>
<circle cx="462.6" cy="970.7" r="7.0" fill="#62c9b5" fill-opacity="0.88"/>
<text x="488.5" y="976.4" font-size="26.5">South Atlantic Ocean</text>
<circle cx="462.6" cy="1001.4" r="7.0" fill="#70b3f4" fill-opacity="0.88"/>
<text x="488.5" y="1007.2" font-size="26.5">South Pacific Ocean</text>
<circle cx="462.6" cy="1032.1" r="7.0" fill="#b3bdc5" fill-opacity="0.88"/>
<text x="488.5" y="1038.1" font-size="26.5">Southern Ocean</text>
<line x1="108.3" y1="1427.9" x2="785.6" y2="1427.9" stroke="#ebebeb" stroke-width="1.4"/>
<line x1="108.3" y1="1361.7" x2="785.6" y2="1361.7" stroke="#ebebeb" stroke-width="1.4"/>
<line x1="108.3" y1="1295.5" x2="785.6" y2="1295.5" stroke="#ebebeb" stroke-width="1.4"/>
<line x1="108.3" y1="1229.3" x2="785.6" y2="1229.3" stroke="#ebebeb" stroke-width="1.4"/>
<line x1="108.3" y1="1163.1" x2="785.6" y2="1163.1" stroke="#ebebeb" stroke-width="1.4"/>
<line x1="254.6" y1="1132.1" x2="254.6" y2="1475.9" stroke="#ebebeb" stroke-width="1.4"/>
<line x1="468.8" y1="1132.1" x2="468.8" y2="1475.9" stroke="#ebebeb" stroke-width="1.4"/>
<line x1="682.9" y1="1132.1" x2="682.9" y2="1475.9" stroke="#ebebeb" stroke-width="1.4"/>
<line x1="108.3" y1="1461.0" x2="785.6" y2="1461.0" stroke="#ebebeb" stroke-width="2.8"/>
<line x1="108.3" y1="1394.8" x2="785.6" y2="1394.8" stroke="#ebebeb" stroke-width="2.8"/>
<line x1="108.3" y1="1328.6" x2="785.6" y2="1328.6" stroke="#ebebeb" stroke-width="2.8"/>
<line x1="108.3" y1="1262.4" x2="785.6" y2="1262.4" stroke="#ebebeb" stroke-width="2.8"/>
<line x1="108.3" y1="1196.2" x2="785.6" y2="1196.2" stroke="#ebebeb" stroke-width="2.8"/>
<line x1="147.6" y1="1132.1" x2="147.6" y2="1475.9" stroke="#ebebeb" stroke-width="2.8"/>
<line x1="361.7" y1="1132.1" x2="361.7" y2="1475.9" stroke="#ebebeb" stroke-width="2.8"/>
<line x1="575.8" y1="1132.1" x2="575.8" y2="1475.9" stroke="#ebebeb" stroke-width="2.8"/>
<rect x="138.0" y="1453.7" width="19.3" height="7.3" fill="#595959"/>
<rect x="159.4" y="1426.9" width="19.3" height="34.1" fill="#595959"/>
<rect x="180.8" y="1384.9" width="19.3" height="76.1" fill="#595959"/>
<rect x="202.2" y="1340.5" width="19.3" height="120.5" fill="#595959"/>
<rect x="223.6" y="1297.5" width="19.3" height="163.5" fill="#595959"/>
<rect x="245.0" y="1269.7" width="19.3" height="191.3" fill="#595959"/>
<rect x="266.4" y="1221.4" width="19.3" height="239.6" fill="#595959"/>
<rect x="287.8" y="1224.0" width="19.3" height="237.0" fill="#595959"/>
<rect x="309.2" y="1171.0" width="19.3" height="290.0" fill="#595959"/>
<rect x="330.7" y="1166.4" width="19.3" height="294.6" fill="#595959"/>
<rect x="352.1" y="1162.4" width="19.3" height="298.6" fill="#595959"/>
<rect x="373.5" y="1146.9" width="19.3" height="314.1" fill="#595959"/>
<rect x="394.9" y="1203.8" width="19.3" height="257.2" fill="#595959"/>
<rect x="416.3" y="1163.8" width="19.3" height="297.2" fill="#595959"/>
<rect x="437.7" y="1174.4" width="19.3" height="286.6" fill="#595959"/>
<rect x="459.1" y="1202.8" width="19.3" height="258.2" fill="#595959"/>
<rect x="480.5" y="1206.1" width="19.3" height="254.9" fill="#595959"/>
<rect x="501.9" y="1208.1" width="19.3" height="252.9" fill="#595959"/>
<rect x="523.3" y="1220.0" width="19.3" height="241.0" fill="#595959"/>
<rect x="544.8" y="1250.7" width="19.3" height="210.3" fill="#595959"/>
<rect x="566.2" y="1250.7" width="19.3" height="210.3" fill="#595959"/>
<rect x="587.6" y="1262.0" width="19.3" height="199.0" fill="#595959"/>
<rect x="609.0" y="1276.4" width="19.3" height="184.6" fill="#595959"/>
<rect x="630.4" y="1282.5" width="19.3" height="178.5" fill="#595959"/>
<rect x="651.8" y="1289.7" width="19.3" height="171.3" fill="#595959"/>
<rect x="673.2" y="1313.0" width="19.3" height="148.0" fill="#595959"/>
<rect x="694.6" y="1333.4" width="19.3" height="127.6" fill="#595959"/>
<rect x="716.0" y="1356.7" width="19.3" height="104.3" fill="#595959"/>
<rect x="737.4" y="1390.4" width="19.3" height="70.6" fill="#595959"/>
<rect x="108.3" y="1132.1" width="677.3" height="343.8" fill="none" stroke="#333" stroke-width="2.2"/>
<line x1="96.3" y1="1461.0" x2="108.3" y2="1461.0" stroke="#333" stroke-width="3.6"/>
<text x="86.3" y="1468.2" font-size="19.9" text-anchor="end" fill="#4d4d4d">0</text>
<line x1="96.3" y1="1394.8" x2="108.3" y2="1394.8" stroke="#333" stroke-width="3.6"/>
<text x="86.3" y="1402.0" font-size="19.9" text-anchor="end" fill="#4d4d4d">100</text>
<line x1="96.3" y1="1328.6" x2="108.3" y2="1328.6" stroke="#333" stroke-width="3.6"/>
<text x="86.3" y="1335.8" font-size="19.9" text-anchor="end" fill="#4d4d4d">200</text>
<line x1="96.3" y1="1262.4" x2="108.3" y2="1262.4" stroke="#333" stroke-width="3.6"/>
<text x="86.3" y="1269.6" font-size="19.9" text-anchor="end" fill="#4d4d4d">300</text>
<line x1="96.3" y1="1196.2" x2="108.3" y2="1196.2" stroke="#333" stroke-width="3.6"/>
<text x="86.3" y="1203.4" font-size="19.9" text-anchor="end" fill="#4d4d4d">400</text>
<line x1="147.6" y1="1475.9" x2="147.6" y2="1487.5" stroke="#333" stroke-width="3.6"/>
<text x="147.6" y="1511.2" font-size="19.9" text-anchor="middle" fill="#4d4d4d">0</text>
<line x1="361.7" y1="1475.9" x2="361.7" y2="1487.5" stroke="#333" stroke-width="3.6"/>
<text x="361.7" y="1511.2" font-size="19.9" text-anchor="middle" fill="#4d4d4d">10</text>
<line x1="575.8" y1="1475.9" x2="575.8" y2="1487.5" stroke="#333" stroke-width="3.6"/>
<text x="575.8" y="1511.2" font-size="19.9" text-anchor="middle" fill="#4d4d4d">20</text>
<text x="447.3" y="1536.1" font-size="24.5" text-anchor="middle">Number of samples the genes are detected in</text>
<text x="36.0" y="1304.6" font-size="24.5" text-anchor="middle" transform="rotate(-90 36.0 1304.6)">Number of genes (out of 8650)</text>
<line x1="121.6" y1="1878.6" x2="228.7" y2="1878.6" stroke="#ebebeb" stroke-width="1.4"/>
<line x1="121.6" y1="1804.0" x2="228.7" y2="1804.0" stroke="#ebebeb" stroke-width="1.4"/>
<line x1="121.6" y1="1729.4" x2="228.7" y2="1729.4" stroke="#ebebeb" stroke-width="1.4"/>
<line x1="121.6" y1="1654.8" x2="228.7" y2="1654.8" stroke="#ebebeb" stroke-width="1.4"/>
<line x1="121.6" y1="1915.9" x2="228.7" y2="1915.9" stroke="#ebebeb" stroke-width="2.8"/>
<line x1="121.6" y1="1841.3" x2="228.7" y2="1841.3" stroke="#ebebeb" stroke-width="2.8"/>
<line x1="121.6" y1="1766.7" x2="228.7" y2="1766.7" stroke="#ebebeb" stroke-width="2.8"/>
<line x1="121.6" y1="1692.1" x2="228.7" y2="1692.1" stroke="#ebebeb" stroke-width="2.8"/>
<line x1="121.6" y1="1617.5" x2="228.7" y2="1617.5" stroke="#ebebeb" stroke-width="2.8"/>
<line x1="134.0" y1="1612.2" x2="134.0" y2="1929.2" stroke="#ebebeb" stroke-width="3.4"/>
<line x1="154.6" y1="1612.2" x2="154.6" y2="1929.2" stroke="#ebebeb" stroke-width="3.4"/>
<line x1="175.1" y1="1612.2" x2="175.1" y2="1929.2" stroke="#ebebeb" stroke-width="3.4"/>
<line x1="195.7" y1="1612.2" x2="195.7" y2="1929.2" stroke="#ebebeb" stroke-width="3.4"/>
<line x1="216.3" y1="1612.2" x2="216.3" y2="1929.2" stroke="#ebebeb" stroke-width="3.4"/>
<rect x="124.7" y="1751.9" width="18.5" height="164.0" fill="#595959"/>
<rect x="145.3" y="1748.2" width="18.5" height="167.7" fill="#595959"/>
<rect x="165.9" y="1625.9" width="18.5" height="290.0" fill="#595959"/>
<rect x="186.5" y="1702.1" width="18.5" height="213.8" fill="#595959"/>
<rect x="207.1" y="1779.1" width="18.5" height="136.8" fill="#595959"/>
<rect x="121.6" y="1612.2" width="107.1" height="317.0" fill="none" stroke="#333" stroke-width="2.2"/>
<rect x="121.6" y="1568.9" width="107.1" height="43.3" fill="#d9d9d9" stroke="#333" stroke-width="2.2"/>
<line x1="120.5" y1="1569.9" x2="229.8" y2="1569.9" stroke="#333" stroke-width="4.2"/>
<line x1="120.5" y1="1611.6" x2="229.8" y2="1611.6" stroke="#333" stroke-width="4.2"/>
<text x="175.1" y="1598.6" font-size="20.0" text-anchor="middle" fill="#1a1a1a">Cluster 1</text>
<line x1="252.8" y1="1878.6" x2="359.1" y2="1878.6" stroke="#ebebeb" stroke-width="1.4"/>
<line x1="252.8" y1="1804.0" x2="359.1" y2="1804.0" stroke="#ebebeb" stroke-width="1.4"/>
<line x1="252.8" y1="1729.4" x2="359.1" y2="1729.4" stroke="#ebebeb" stroke-width="1.4"/>
<line x1="252.8" y1="1654.8" x2="359.1" y2="1654.8" stroke="#ebebeb" stroke-width="1.4"/>
<line x1="252.8" y1="1915.9" x2="359.1" y2="1915.9" stroke="#ebebeb" stroke-width="2.8"/>
<line x1="252.8" y1="1841.3" x2="359.1" y2="1841.3" stroke="#ebebeb" stroke-width="2.8"/>
<line x1="252.8" y1="1766.7" x2="359.1" y2="1766.7" stroke="#ebebeb" stroke-width="2.8"/>
<line x1="252.8" y1="1692.1" x2="359.1" y2="1692.1" stroke="#ebebeb" stroke-width="2.8"/>
<line x1="252.8" y1="1617.5" x2="359.1" y2="1617.5" stroke="#ebebeb" stroke-width="2.8"/>
<line x1="265.1" y1="1612.2" x2="265.1" y2="1929.2" stroke="#ebebeb" stroke-width="3.4"/>
<line x1="285.5" y1="1612.2" x2="285.5" y2="1929.2" stroke="#ebebeb" stroke-width="3.4"/>
<line x1="306.0" y1="1612.2" x2="306.0" y2="1929.2" stroke="#ebebeb" stroke-width="3.4"/>
<line x1="326.4" y1="1612.2" x2="326.4" y2="1929.2" stroke="#ebebeb" stroke-width="3.4"/>
<line x1="346.8" y1="1612.2" x2="346.8" y2="1929.2" stroke="#ebebeb" stroke-width="3.4"/>
<rect x="255.9" y="1816.4" width="18.4" height="99.5" fill="#595959"/>
<rect x="276.3" y="1846.9" width="18.4" height="69.0" fill="#595959"/>
<rect x="296.8" y="1865.8" width="18.4" height="50.1" fill="#595959"/>
<rect x="317.2" y="1812.4" width="18.4" height="103.5" fill="#595959"/>
<rect x="337.6" y="1814.8" width="18.4" height="101.1" fill="#595959"/>
<rect x="252.8" y="1612.2" width="106.3" height="317.0" fill="none" stroke="#333" stroke-width="2.2"/>
<rect x="252.8" y="1568.9" width="106.3" height="43.3" fill="#d9d9d9" stroke="#333" stroke-width="2.2"/>
<line x1="251.7" y1="1569.9" x2="360.2" y2="1569.9" stroke="#333" stroke-width="4.2"/>
<line x1="251.7" y1="1611.6" x2="360.2" y2="1611.6" stroke="#333" stroke-width="4.2"/>
<text x="306.0" y="1598.6" font-size="20.0" text-anchor="middle" fill="#1a1a1a">Cluster 2</text>
<line x1="383.1" y1="1878.6" x2="532.0" y2="1878.6" stroke="#ebebeb" stroke-width="1.4"/>
<line x1="383.1" y1="1804.0" x2="532.0" y2="1804.0" stroke="#ebebeb" stroke-width="1.4"/>
<line x1="383.1" y1="1729.4" x2="532.0" y2="1729.4" stroke="#ebebeb" stroke-width="1.4"/>
<line x1="383.1" y1="1654.8" x2="532.0" y2="1654.8" stroke="#ebebeb" stroke-width="1.4"/>
<line x1="383.1" y1="1915.9" x2="532.0" y2="1915.9" stroke="#ebebeb" stroke-width="2.8"/>
<line x1="383.1" y1="1841.3" x2="532.0" y2="1841.3" stroke="#ebebeb" stroke-width="2.8"/>
<line x1="383.1" y1="1766.7" x2="532.0" y2="1766.7" stroke="#ebebeb" stroke-width="2.8"/>
<line x1="383.1" y1="1692.1" x2="532.0" y2="1692.1" stroke="#ebebeb" stroke-width="2.8"/>
<line x1="383.1" y1="1617.5" x2="532.0" y2="1617.5" stroke="#ebebeb" stroke-width="2.8"/>
<line x1="395.5" y1="1612.2" x2="395.5" y2="1929.2" stroke="#ebebeb" stroke-width="3.4"/>
<line x1="416.2" y1="1612.2" x2="416.2" y2="1929.2" stroke="#ebebeb" stroke-width="3.4"/>
<line x1="436.9" y1="1612.2" x2="436.9" y2="1929.2" stroke="#ebebeb" stroke-width="3.4"/>
<line x1="457.6" y1="1612.2" x2="457.6" y2="1929.2" stroke="#ebebeb" stroke-width="3.4"/>
<line x1="478.2" y1="1612.2" x2="478.2" y2="1929.2" stroke="#ebebeb" stroke-width="3.4"/>
<line x1="498.9" y1="1612.2" x2="498.9" y2="1929.2" stroke="#ebebeb" stroke-width="3.4"/>
<line x1="519.6" y1="1612.2" x2="519.6" y2="1929.2" stroke="#ebebeb" stroke-width="3.4"/>
<rect x="386.2" y="1801.2" width="18.6" height="114.7" fill="#595959"/>
<rect x="406.9" y="1777.9" width="18.6" height="138.0" fill="#595959"/>
<rect x="427.6" y="1816.0" width="18.6" height="99.9" fill="#595959"/>
<rect x="448.2" y="1791.2" width="18.6" height="124.7" fill="#595959"/>
<rect x="468.9" y="1773.9" width="18.6" height="142.0" fill="#595959"/>
<rect x="489.6" y="1763.1" width="18.6" height="152.8" fill="#595959"/>
<rect x="510.3" y="1770.7" width="18.6" height="145.2" fill="#595959"/>
<rect x="383.1" y="1612.2" width="148.9" height="317.0" fill="none" stroke="#333" stroke-width="2.2"/>
<rect x="383.1" y="1568.9" width="148.9" height="43.3" fill="#d9d9d9" stroke="#333" stroke-width="2.2"/>
<line x1="382.0" y1="1569.9" x2="533.1" y2="1569.9" stroke="#333" stroke-width="4.2"/>
<line x1="382.0" y1="1611.6" x2="533.1" y2="1611.6" stroke="#333" stroke-width="4.2"/>
<text x="457.6" y="1598.6" font-size="20.0" text-anchor="middle" fill="#1a1a1a">Cluster 3</text>
<line x1="555.7" y1="1878.6" x2="787.6" y2="1878.6" stroke="#ebebeb" stroke-width="1.4"/>
<line x1="555.7" y1="1804.0" x2="787.6" y2="1804.0" stroke="#ebebeb" stroke-width="1.4"/>
<line x1="555.7" y1="1729.4" x2="787.6" y2="1729.4" stroke="#ebebeb" stroke-width="1.4"/>
<line x1="555.7" y1="1654.8" x2="787.6" y2="1654.8" stroke="#ebebeb" stroke-width="1.4"/>
<line x1="555.7" y1="1915.9" x2="787.6" y2="1915.9" stroke="#ebebeb" stroke-width="2.8"/>
<line x1="555.7" y1="1841.3" x2="787.6" y2="1841.3" stroke="#ebebeb" stroke-width="2.8"/>
<line x1="555.7" y1="1766.7" x2="787.6" y2="1766.7" stroke="#ebebeb" stroke-width="2.8"/>
<line x1="555.7" y1="1692.1" x2="787.6" y2="1692.1" stroke="#ebebeb" stroke-width="2.8"/>
<line x1="555.7" y1="1617.5" x2="787.6" y2="1617.5" stroke="#ebebeb" stroke-width="2.8"/>
<line x1="568.1" y1="1612.2" x2="568.1" y2="1929.2" stroke="#ebebeb" stroke-width="3.4"/>
<line x1="588.8" y1="1612.2" x2="588.8" y2="1929.2" stroke="#ebebeb" stroke-width="3.4"/>
<line x1="609.5" y1="1612.2" x2="609.5" y2="1929.2" stroke="#ebebeb" stroke-width="3.4"/>
<line x1="630.2" y1="1612.2" x2="630.2" y2="1929.2" stroke="#ebebeb" stroke-width="3.4"/>
<line x1="650.9" y1="1612.2" x2="650.9" y2="1929.2" stroke="#ebebeb" stroke-width="3.4"/>
<line x1="671.7" y1="1612.2" x2="671.7" y2="1929.2" stroke="#ebebeb" stroke-width="3.4"/>
<line x1="692.4" y1="1612.2" x2="692.4" y2="1929.2" stroke="#ebebeb" stroke-width="3.4"/>
<line x1="713.1" y1="1612.2" x2="713.1" y2="1929.2" stroke="#ebebeb" stroke-width="3.4"/>
<line x1="733.8" y1="1612.2" x2="733.8" y2="1929.2" stroke="#ebebeb" stroke-width="3.4"/>
<line x1="754.5" y1="1612.2" x2="754.5" y2="1929.2" stroke="#ebebeb" stroke-width="3.4"/>
<line x1="775.2" y1="1612.2" x2="775.2" y2="1929.2" stroke="#ebebeb" stroke-width="3.4"/>
<rect x="558.8" y="1751.4" width="18.6" height="164.5" fill="#595959"/>
<rect x="579.5" y="1713.4" width="18.6" height="202.5" fill="#595959"/>
<rect x="600.2" y="1657.6" width="18.6" height="258.3" fill="#595959"/>
<rect x="620.9" y="1715.0" width="18.6" height="200.9" fill="#595959"/>
<rect x="641.6" y="1724.6" width="18.6" height="191.3" fill="#595959"/>
<rect x="662.3" y="1704.9" width="18.6" height="211.0" fill="#595959"/>
<rect x="683.0" y="1774.7" width="18.6" height="141.2" fill="#595959"/>
<rect x="703.7" y="1747.0" width="18.6" height="168.9" fill="#595959"/>
<rect x="724.4" y="1635.6" width="18.6" height="280.3" fill="#595959"/>
<rect x="745.2" y="1692.1" width="18.6" height="223.8" fill="#595959"/>
<rect x="765.9" y="1725.0" width="18.6" height="190.9" fill="#595959"/>
<rect x="555.7" y="1612.2" width="231.9" height="317.0" fill="none" stroke="#333" stroke-width="2.2"/>
<rect x="555.7" y="1568.9" width="231.9" height="43.3" fill="#d9d9d9" stroke="#333" stroke-width="2.2"/>
<line x1="554.6" y1="1569.9" x2="788.7" y2="1569.9" stroke="#333" stroke-width="4.2"/>
<line x1="554.6" y1="1611.6" x2="788.7" y2="1611.6" stroke="#333" stroke-width="4.2"/>
<text x="671.7" y="1598.6" font-size="20.0" text-anchor="middle" fill="#1a1a1a">Cluster 4</text>
<line x1="109.0" y1="1915.9" x2="121.6" y2="1915.9" stroke="#333" stroke-width="3.6"/>
<text x="100.3" y="1923.1" font-size="20.3" text-anchor="end" fill="#4d4d4d">0</text>
<line x1="109.0" y1="1841.3" x2="121.6" y2="1841.3" stroke="#333" stroke-width="3.6"/>
<text x="100.3" y="1848.5" font-size="20.3" text-anchor="end" fill="#4d4d4d">2000</text>
<line x1="109.0" y1="1766.7" x2="121.6" y2="1766.7" stroke="#333" stroke-width="3.6"/>
<text x="100.3" y="1773.9" font-size="20.3" text-anchor="end" fill="#4d4d4d">4000</text>
<line x1="109.0" y1="1692.1" x2="121.6" y2="1692.1" stroke="#333" stroke-width="3.6"/>
<text x="100.3" y="1699.3" font-size="20.3" text-anchor="end" fill="#4d4d4d">6000</text>
<line x1="109.0" y1="1617.5" x2="121.6" y2="1617.5" stroke="#333" stroke-width="3.6"/>
<text x="100.3" y="1624.7" font-size="20.3" text-anchor="end" fill="#4d4d4d">8000</text>
<text x="454.4" y="1958.5" font-size="24.5" text-anchor="middle">Metatranscriptomic samples</text>
<text x="36.0" y="1770.7" font-size="24.5" text-anchor="middle" transform="rotate(-90 36.0 1770.7)">Number of genes</text>
<line x1="1687.7" y1="111.1" x2="1687.7" y2="576.0" stroke="#ececec" stroke-width="1.7"/>
<line x1="1788.5" y1="111.1" x2="1788.5" y2="576.0" stroke="#ececec" stroke-width="1.7"/>
<line x1="1889.2" y1="111.1" x2="1889.2" y2="576.0" stroke="#ececec" stroke-width="1.7"/>
<line x1="1990.0" y1="111.1" x2="1990.0" y2="576.0" stroke="#ececec" stroke-width="1.7"/>
<line x1="2090.7" y1="111.1" x2="2090.7" y2="576.0" stroke="#ececec" stroke-width="1.7"/>
<line x1="1637.3" y1="111.1" x2="1637.3" y2="576.0" stroke="#e7e7e7" stroke-width="2.0"/>
<line x1="1738.1" y1="111.1" x2="1738.1" y2="576.0" stroke="#e7e7e7" stroke-width="2.0"/>
<line x1="1838.8" y1="111.1" x2="1838.8" y2="576.0" stroke="#e7e7e7" stroke-width="2.0"/>
<line x1="1939.6" y1="111.1" x2="1939.6" y2="576.0" stroke="#e7e7e7" stroke-width="2.0"/>
<line x1="2040.3" y1="111.1" x2="2040.3" y2="576.0" stroke="#e7e7e7" stroke-width="2.0"/>
<line x1="1635.0" y1="128.3" x2="2120.5" y2="128.3" stroke="#e7e7e7" stroke-width="2.1"/>
<line x1="1635.0" y1="157.0" x2="2120.5" y2="157.0" stroke="#e7e7e7" stroke-width="2.1"/>
<line x1="1635.0" y1="185.7" x2="2120.5" y2="185.7" stroke="#e7e7e7" stroke-width="2.1"/>
<line x1="1635.0" y1="214.5" x2="2120.5" y2="214.5" stroke="#e7e7e7" stroke-width="2.1"/>
<line x1="1635.0" y1="243.2" x2="2120.5" y2="243.2" stroke="#e7e7e7" stroke-width="2.1"/>
<line x1="1635.0" y1="271.9" x2="2120.5" y2="271.9" stroke="#e7e7e7" stroke-width="2.1"/>
<line x1="1635.0" y1="300.6" x2="2120.5" y2="300.6" stroke="#e7e7e7" stroke-width="2.1"/>
<line x1="1635.0" y1="329.3" x2="2120.5" y2="329.3" stroke="#e7e7e7" stroke-width="2.1"/>
<line x1="1635.0" y1="358.1" x2="2120.5" y2="358.1" stroke="#e7e7e7" stroke-width="2.1"/>
<line x1="1635.0" y1="386.8" x2="2120.5" y2="386.8" stroke="#e7e7e7" stroke-width="2.1"/>
<line x1="1635.0" y1="415.5" x2="2120.5" y2="415.5" stroke="#e7e7e7" stroke-width="2.1"/>
<line x1="1635.0" y1="444.2" x2="2120.5" y2="444.2" stroke="#e7e7e7" stroke-width="2.1"/>
<line x1="1635.0" y1="472.9" x2="2120.5" y2="472.9" stroke="#e7e7e7" stroke-width="2.1"/>
<line x1="1635.0" y1="501.7" x2="2120.5" y2="501.7" stroke="#e7e7e7" stroke-width="2.1"/>
<line x1="1635.0" y1="530.4" x2="2120.5" y2="530.4" stroke="#e7e7e7" stroke-width="2.1"/>
<line x1="1635.0" y1="559.1" x2="2120.5" y2="559.1" stroke="#e7e7e7" stroke-width="2.1"/>
<line x1="1747.8" y1="128.3" x2="1806.6" y2="128.3" stroke="#333" stroke-width="1.7"/>
<line x1="1926.1" y1="128.3" x2="1944.4" y2="128.3" stroke="#333" stroke-width="1.7"/>
<rect x="1806.6" y="117.5" width="119.5" height="21.5" fill="#fff" stroke="#333" stroke-width="1.7"/>
<line x1="1912.8" y1="117.5" x2="1912.8" y2="139.1" stroke="#222" stroke-width="3.4"/>
<line x1="1671.6" y1="157.0" x2="1741.3" y2="157.0" stroke="#333" stroke-width="1.7"/>
<line x1="1902.9" y1="157.0" x2="1939.6" y2="157.0" stroke="#333" stroke-width="1.7"/>
<rect x="1741.3" y="146.2" width="161.6" height="21.5" fill="#fff" stroke="#333" stroke-width="1.7"/>
<line x1="1842.1" y1="146.2" x2="1842.1" y2="167.8" stroke="#222" stroke-width="3.4"/>
<line x1="1732.1" y1="185.7" x2="1793.3" y2="185.7" stroke="#333" stroke-width="1.7"/>
<line x1="1912.8" y1="185.7" x2="1958.1" y2="185.7" stroke="#333" stroke-width="1.7"/>
<rect x="1793.3" y="175.0" width="119.5" height="21.5" fill="#fff" stroke="#333" stroke-width="1.7"/>
<line x1="1893.9" y1="175.0" x2="1893.9" y2="196.5" stroke="#222" stroke-width="3.4"/>
<line x1="1748.2" y1="214.5" x2="1794.5" y2="214.5" stroke="#333" stroke-width="1.7"/>
<line x1="1938.8" y1="214.5" x2="1946.2" y2="214.5" stroke="#333" stroke-width="1.7"/>
<rect x="1794.5" y="203.7" width="144.3" height="21.5" fill="#fff" stroke="#333" stroke-width="1.7"/>
<line x1="1923.1" y1="203.7" x2="1923.1" y2="225.2" stroke="#222" stroke-width="3.4"/>
<line x1="1699.8" y1="243.2" x2="1730.0" y2="243.2" stroke="#333" stroke-width="1.7"/>
<line x1="1821.1" y1="243.2" x2="1889.4" y2="243.2" stroke="#333" stroke-width="1.7"/>
<rect x="1730.0" y="232.4" width="91.1" height="21.5" fill="#fff" stroke="#333" stroke-width="1.7"/>
<line x1="1750.8" y1="232.4" x2="1750.8" y2="254.0" stroke="#222" stroke-width="3.4"/>
<line x1="1699.8" y1="271.9" x2="1742.9" y2="271.9" stroke="#333" stroke-width="1.7"/>
<line x1="1915.6" y1="271.9" x2="1939.6" y2="271.9" stroke="#333" stroke-width="1.7"/>
<rect x="1742.9" y="261.1" width="172.7" height="21.5" fill="#fff" stroke="#333" stroke-width="1.7"/>
<line x1="1780.4" y1="261.1" x2="1780.4" y2="282.7" stroke="#222" stroke-width="3.4"/>
<line x1="1713.9" y1="300.6" x2="1729.2" y2="300.6" stroke="#333" stroke-width="1.7"/>
<line x1="1903.7" y1="300.6" x2="1921.1" y2="300.6" stroke="#333" stroke-width="1.7"/>
<rect x="1729.2" y="289.9" width="174.5" height="21.5" fill="#fff" stroke="#333" stroke-width="1.7"/>
<line x1="1778.6" y1="289.9" x2="1778.6" y2="311.4" stroke="#222" stroke-width="3.4"/>
<line x1="1699.0" y1="329.3" x2="1722.4" y2="329.3" stroke="#333" stroke-width="1.7"/>
<line x1="1896.9" y1="329.3" x2="1948.3" y2="329.3" stroke="#333" stroke-width="1.7"/>
<rect x="1722.4" y="318.6" width="174.5" height="21.5" fill="#fff" stroke="#333" stroke-width="1.7"/>
<line x1="1747.8" y1="318.6" x2="1747.8" y2="340.1" stroke="#222" stroke-width="3.4"/>
<line x1="1732.3" y1="358.1" x2="1752.0" y2="358.1" stroke="#333" stroke-width="1.7"/>
<line x1="1932.1" y1="358.1" x2="1940.6" y2="358.1" stroke="#333" stroke-width="1.7"/>
<rect x="1752.0" y="347.3" width="180.1" height="21.5" fill="#fff" stroke="#333" stroke-width="1.7"/>
<line x1="1906.2" y1="347.3" x2="1906.2" y2="368.8" stroke="#222" stroke-width="3.4"/>
<line x1="1723.6" y1="386.8" x2="1808.0" y2="386.8" stroke="#333" stroke-width="1.7"/>
<line x1="1919.9" y1="386.8" x2="1929.5" y2="386.8" stroke="#333" stroke-width="1.7"/>
<rect x="1808.0" y="376.0" width="111.8" height="21.5" fill="#fff" stroke="#333" stroke-width="1.7"/>
<line x1="1877.3" y1="376.0" x2="1877.3" y2="397.6" stroke="#222" stroke-width="3.4"/>
<line x1="1808.0" y1="415.5" x2="1874.7" y2="415.5" stroke="#333" stroke-width="1.7"/>
<line x1="1924.3" y1="415.5" x2="1955.5" y2="415.5" stroke="#333" stroke-width="1.7"/>
<rect x="1874.7" y="404.7" width="49.6" height="21.5" fill="#fff" stroke="#333" stroke-width="1.7"/>
<line x1="1908.0" y1="404.7" x2="1908.0" y2="426.3" stroke="#222" stroke-width="3.4"/>
<line x1="1720.0" y1="444.2" x2="1755.2" y2="444.2" stroke="#333" stroke-width="1.7"/>
<line x1="1861.8" y1="444.2" x2="1946.2" y2="444.2" stroke="#333" stroke-width="1.7"/>
<rect x="1755.2" y="433.4" width="106.6" height="21.5" fill="#fff" stroke="#333" stroke-width="1.7"/>
<line x1="1810.8" y1="433.4" x2="1810.8" y2="455.0" stroke="#222" stroke-width="3.4"/>
<line x1="1671.8" y1="472.9" x2="1720.0" y2="472.9" stroke="#333" stroke-width="1.7"/>
<line x1="1813.1" y1="472.9" x2="1929.7" y2="472.9" stroke="#333" stroke-width="1.7"/>
<rect x="1720.0" y="462.2" width="93.1" height="21.5" fill="#fff" stroke="#333" stroke-width="1.7"/>
<line x1="1747.8" y1="462.2" x2="1747.8" y2="483.7" stroke="#222" stroke-width="3.4"/>
<line x1="1954.3" y1="501.7" x2="1979.7" y2="501.7" stroke="#333" stroke-width="1.7"/>
<rect x="1876.1" y="490.9" width="78.2" height="21.5" fill="#fff" stroke="#333" stroke-width="1.7"/>
<line x1="1942.6" y1="490.9" x2="1942.6" y2="512.4" stroke="#222" stroke-width="3.4"/>
<line x1="1718.8" y1="530.4" x2="1751.6" y2="530.4" stroke="#333" stroke-width="1.7"/>
<line x1="2006.7" y1="530.4" x2="2081.5" y2="530.4" stroke="#333" stroke-width="1.7"/>
<rect x="1751.6" y="519.6" width="255.1" height="21.5" fill="#fff" stroke="#333" stroke-width="1.7"/>
<line x1="1884.8" y1="519.6" x2="1884.8" y2="541.1" stroke="#222" stroke-width="3.4"/>
<line x1="1977.9" y1="559.1" x2="1992.6" y2="559.1" stroke="#333" stroke-width="1.7"/>
<rect x="1939.6" y="548.3" width="38.3" height="21.5" fill="#fff" stroke="#333" stroke-width="1.7"/>
<line x1="1960.0" y1="548.3" x2="1960.0" y2="569.9" stroke="#222" stroke-width="3.4"/>
<line x1="1939.6" y1="111.1" x2="1939.6" y2="576.0" stroke="#000" stroke-width="1.9" stroke-dasharray="5.5,4.5"/>
<circle cx="1747.8" cy="125.8" r="5.7" fill="none" stroke="#eb9038" stroke-width="2.3" stroke-opacity="0.78"/>
<circle cx="1748.2" cy="129.5" r="5.7" fill="none" stroke="#eb9038" stroke-width="2.3" stroke-opacity="0.78"/>
<circle cx="1808.8" cy="128.3" r="5.7" fill="none" stroke="#eb9038" stroke-width="2.3" stroke-opacity="0.78"/>
<circle cx="1801.4" cy="126.6" r="5.3" fill="#f09a48" fill-opacity="0.85"/>
<circle cx="1820.3" cy="130.3" r="5.3" fill="#f09a48" fill-opacity="0.85"/>
<circle cx="1908.2" cy="132.0" r="5.4" fill="#4f7fc0" fill-opacity="0.7"/>
<circle cx="1916.0" cy="123.4" r="5.4" fill="#4f7fc0" fill-opacity="0.7"/>
<circle cx="1922.3" cy="125.1" r="5.4" fill="#4f7fc0" fill-opacity="0.7"/>
<circle cx="1923.5" cy="133.2" r="5.4" fill="#4f7fc0" fill-opacity="0.7"/>
<circle cx="1930.9" cy="129.5" r="5.4" fill="#4f7fc0" fill-opacity="0.7"/>
<circle cx="1937.0" cy="129.5" r="5.4" fill="#4f7fc0" fill-opacity="0.7"/>
<circle cx="1941.2" cy="128.3" r="5.4" fill="#4f7fc0" fill-opacity="0.7"/>
<circle cx="1944.4" cy="132.0" r="5.4" fill="#4f7fc0" fill-opacity="0.7"/>
<text x="1614.4" y="136.3" font-size="20.37" text-anchor="end" fill="#4d4d4d">terpene;T1PKS;hglE−KS (TARA_SAMEA2623601_METAG−scaffold_12−biosynth_1)</text>
<line x1="1624.0" y1="128.3" x2="1634.8" y2="128.3" stroke="#333" stroke-width="2.4"/>
<circle cx="1671.6" cy="153.8" r="5.7" fill="none" stroke="#eb9038" stroke-width="2.3" stroke-opacity="0.78"/>
<circle cx="1717.9" cy="153.3" r="5.7" fill="none" stroke="#eb9038" stroke-width="2.3" stroke-opacity="0.78"/>
<circle cx="1724.0" cy="161.9" r="5.7" fill="none" stroke="#eb9038" stroke-width="2.3" stroke-opacity="0.78"/>
<circle cx="1748.2" cy="155.8" r="5.7" fill="none" stroke="#eb9038" stroke-width="2.3" stroke-opacity="0.78"/>
<circle cx="1749.2" cy="158.2" r="5.7" fill="none" stroke="#eb9038" stroke-width="2.3" stroke-opacity="0.78"/>
<circle cx="1808.6" cy="154.5" r="5.7" fill="none" stroke="#eb9038" stroke-width="2.3" stroke-opacity="0.78"/>
<circle cx="1876.1" cy="152.1" r="5.3" fill="#f09a48" fill-opacity="0.85"/>
<circle cx="1889.2" cy="157.5" r="5.3" fill="#f09a48" fill-opacity="0.85"/>
<circle cx="1903.3" cy="153.3" r="5.4" fill="#4f7fc0" fill-opacity="0.7"/>
<circle cx="1902.3" cy="161.9" r="5.4" fill="#4f7fc0" fill-opacity="0.7"/>
<circle cx="1930.5" cy="152.6" r="5.4" fill="#4f7fc0" fill-opacity="0.7"/>
<circle cx="1939.6" cy="155.8" r="5.4" fill="#4f7fc0" fill-opacity="0.7"/>
<text x="1614.4" y="165.0" font-size="20.37" text-anchor="end" fill="#4d4d4d">terpene (TARA_SAMEA2623601_METAG−scaffold_33−biosynth_1)</text>
<line x1="1624.0" y1="157.0" x2="1634.8" y2="157.0" stroke="#333" stroke-width="2.4"/>
<circle cx="1732.1" cy="183.7" r="5.7" fill="none" stroke="#eb9038" stroke-width="2.3" stroke-opacity="0.78"/>
<circle cx="1748.2" cy="185.5" r="5.7" fill="none" stroke="#eb9038" stroke-width="2.3" stroke-opacity="0.78"/>
<circle cx="1748.2" cy="190.4" r="5.7" fill="none" stroke="#eb9038" stroke-width="2.3" stroke-opacity="0.78"/>
<circle cx="1808.6" cy="185.9" r="5.7" fill="none" stroke="#eb9038" stroke-width="2.3" stroke-opacity="0.78"/>
<circle cx="1885.2" cy="184.2" r="5.3" fill="#f09a48" fill-opacity="0.85"/>
<circle cx="1886.2" cy="189.2" r="5.3" fill="#f09a48" fill-opacity="0.85"/>
<circle cx="1901.3" cy="179.7" r="5.4" fill="#4f7fc0" fill-opacity="0.7"/>
<circle cx="1911.4" cy="189.2" r="5.4" fill="#4f7fc0" fill-opacity="0.7"/>
<circle cx="1914.4" cy="184.2" r="5.4" fill="#4f7fc0" fill-opacity="0.7"/>
<circle cx="1919.4" cy="181.7" r="5.4" fill="#4f7fc0" fill-opacity="0.7"/>
<circle cx="1910.4" cy="191.6" r="5.4" fill="#4f7fc0" fill-opacity="0.7"/>
<circle cx="1957.7" cy="181.0" r="5.4" fill="#4f7fc0" fill-opacity="0.7"/>
<text x="1614.4" y="193.7" font-size="20.37" text-anchor="end" fill="#4d4d4d">terpene (TARA_SAMEA2623601_METAG−scaffold_16−biosynth_1)</text>
<line x1="1624.0" y1="185.7" x2="1634.8" y2="185.7" stroke="#333" stroke-width="2.4"/>
<circle cx="1753.2" cy="208.5" r="5.7" fill="none" stroke="#eb9038" stroke-width="2.3" stroke-opacity="0.78"/>
<circle cx="1748.2" cy="214.0" r="5.7" fill="none" stroke="#eb9038" stroke-width="2.3" stroke-opacity="0.78"/>
<circle cx="1747.2" cy="217.7" r="5.7" fill="none" stroke="#eb9038" stroke-width="2.3" stroke-opacity="0.78"/>
<circle cx="1808.6" cy="214.0" r="5.7" fill="none" stroke="#eb9038" stroke-width="2.3" stroke-opacity="0.78"/>
<circle cx="1908.0" cy="216.5" r="5.4" fill="#4f7fc0" fill-opacity="0.7"/>
<circle cx="1917.4" cy="219.4" r="5.4" fill="#4f7fc0" fill-opacity="0.7"/>
<circle cx="1928.5" cy="212.0" r="5.4" fill="#4f7fc0" fill-opacity="0.7"/>
<circle cx="1931.3" cy="212.8" r="5.4" fill="#4f7fc0" fill-opacity="0.7"/>
<circle cx="1943.2" cy="210.3" r="5.4" fill="#4f7fc0" fill-opacity="0.7"/>
<circle cx="1946.2" cy="219.4" r="5.4" fill="#4f7fc0" fill-opacity="0.7"/>
<circle cx="1940.2" cy="220.2" r="5.4" fill="#4f7fc0" fill-opacity="0.7"/>
<text x="1614.4" y="222.5" font-size="20.37" text-anchor="end" fill="#4d4d4d">T3PKS (TARA_SAMEA2623601_METAG−scaffold_173−biosynth_1)</text>
<line x1="1624.0" y1="214.5" x2="1634.8" y2="214.5" stroke="#333" stroke-width="2.4"/>
<circle cx="1699.8" cy="240.7" r="5.7" fill="none" stroke="#eb9038" stroke-width="2.3" stroke-opacity="0.78"/>
<circle cx="1715.9" cy="243.7" r="5.7" fill="none" stroke="#eb9038" stroke-width="2.3" stroke-opacity="0.78"/>
<circle cx="1724.0" cy="241.2" r="5.7" fill="none" stroke="#eb9038" stroke-width="2.3" stroke-opacity="0.78"/>
<circle cx="1734.1" cy="247.4" r="5.7" fill="none" stroke="#eb9038" stroke-width="2.3" stroke-opacity="0.78"/>
<circle cx="1748.2" cy="240.7" r="5.7" fill="none" stroke="#eb9038" stroke-width="2.3" stroke-opacity="0.78"/>
<circle cx="1752.2" cy="246.7" r="5.7" fill="none" stroke="#eb9038" stroke-width="2.3" stroke-opacity="0.78"/>
<circle cx="1758.2" cy="248.6" r="5.7" fill="none" stroke="#eb9038" stroke-width="2.3" stroke-opacity="0.78"/>
<circle cx="1808.6" cy="247.4" r="5.7" fill="none" stroke="#eb9038" stroke-width="2.3" stroke-opacity="0.78"/>
<circle cx="1859.0" cy="244.4" r="5.3" fill="#f09a48" fill-opacity="0.85"/>
<circle cx="1877.1" cy="239.5" r="5.3" fill="#f09a48" fill-opacity="0.85"/>
<circle cx="1889.2" cy="244.9" r="5.3" fill="#f09a48" fill-opacity="0.85"/>
<text x="1614.4" y="251.2" font-size="20.37" text-anchor="end" fill="#4d4d4d">T1PKS (TARA_SAMEA2623601_METAG−scaffold_52−biosynth_1)</text>
<line x1="1624.0" y1="243.2" x2="1634.8" y2="243.2" stroke="#333" stroke-width="2.4"/>
<circle cx="1699.8" cy="276.9" r="5.7" fill="none" stroke="#eb9038" stroke-width="2.3" stroke-opacity="0.78"/>
<circle cx="1722.0" cy="276.1" r="5.7" fill="none" stroke="#eb9038" stroke-width="2.3" stroke-opacity="0.78"/>
<circle cx="1730.0" cy="274.9" r="5.7" fill="none" stroke="#eb9038" stroke-width="2.3" stroke-opacity="0.78"/>
<circle cx="1750.2" cy="269.9" r="5.7" fill="none" stroke="#eb9038" stroke-width="2.3" stroke-opacity="0.78"/>
<circle cx="1752.2" cy="276.1" r="5.7" fill="none" stroke="#eb9038" stroke-width="2.3" stroke-opacity="0.78"/>
<circle cx="1756.2" cy="274.9" r="5.7" fill="none" stroke="#eb9038" stroke-width="2.3" stroke-opacity="0.78"/>
<circle cx="1808.6" cy="270.7" r="5.7" fill="none" stroke="#eb9038" stroke-width="2.3" stroke-opacity="0.78"/>
<circle cx="1893.9" cy="267.5" r="5.3" fill="#f09a48" fill-opacity="0.85"/>
<circle cx="1915.6" cy="268.7" r="5.4" fill="#4f7fc0" fill-opacity="0.7"/>
<circle cx="1935.8" cy="273.1" r="5.4" fill="#4f7fc0" fill-opacity="0.7"/>
<circle cx="1942.8" cy="271.2" r="5.4" fill="#4f7fc0" fill-opacity="0.7"/>
<text x="1614.4" y="279.9" font-size="20.37" text-anchor="end" fill="#4d4d4d">T1PKS (TARA_SAMEA2623601_METAG−scaffold_323−biosynth_1)</text>
<line x1="1624.0" y1="271.9" x2="1634.8" y2="271.9" stroke="#333" stroke-width="2.4"/>
<circle cx="1717.9" cy="294.4" r="5.7" fill="none" stroke="#eb9038" stroke-width="2.3" stroke-opacity="0.78"/>
<circle cx="1715.9" cy="304.3" r="5.7" fill="none" stroke="#eb9038" stroke-width="2.3" stroke-opacity="0.78"/>
<circle cx="1724.0" cy="303.1" r="5.7" fill="none" stroke="#eb9038" stroke-width="2.3" stroke-opacity="0.78"/>
<circle cx="1733.1" cy="302.3" r="5.7" fill="none" stroke="#eb9038" stroke-width="2.3" stroke-opacity="0.78"/>
<circle cx="1748.2" cy="299.4" r="5.7" fill="none" stroke="#eb9038" stroke-width="2.3" stroke-opacity="0.78"/>
<circle cx="1749.2" cy="302.3" r="5.7" fill="none" stroke="#eb9038" stroke-width="2.3" stroke-opacity="0.78"/>
<circle cx="1808.0" cy="304.3" r="5.7" fill="none" stroke="#eb9038" stroke-width="2.3" stroke-opacity="0.78"/>
<circle cx="1898.3" cy="301.3" r="5.3" fill="#f09a48" fill-opacity="0.85"/>
<circle cx="1902.5" cy="300.6" r="5.4" fill="#4f7fc0" fill-opacity="0.7"/>
<circle cx="1908.8" cy="299.4" r="5.4" fill="#4f7fc0" fill-opacity="0.7"/>
<circle cx="1917.4" cy="298.1" r="5.4" fill="#4f7fc0" fill-opacity="0.7"/>
<circle cx="1921.1" cy="298.1" r="5.4" fill="#4f7fc0" fill-opacity="0.7"/>
<text x="1614.4" y="308.6" font-size="20.37" text-anchor="end" fill="#4d4d4d">siderophore (TARA_SAMEA2623601_METAG−scaffold_297−biosynth_1)</text>
<line x1="1624.0" y1="300.6" x2="1634.8" y2="300.6" stroke="#333" stroke-width="2.4"/>
<circle cx="1699.0" cy="325.1" r="5.7" fill="none" stroke="#eb9038" stroke-width="2.3" stroke-opacity="0.78"/>
<circle cx="1708.3" cy="325.6" r="5.7" fill="none" stroke="#eb9038" stroke-width="2.3" stroke-opacity="0.78"/>
<circle cx="1716.7" cy="326.8" r="5.7" fill="none" stroke="#eb9038" stroke-width="2.3" stroke-opacity="0.78"/>
<circle cx="1724.8" cy="325.6" r="5.7" fill="none" stroke="#eb9038" stroke-width="2.3" stroke-opacity="0.78"/>
<circle cx="1731.5" cy="324.4" r="5.7" fill="none" stroke="#eb9038" stroke-width="2.3" stroke-opacity="0.78"/>
<circle cx="1748.2" cy="328.1" r="5.7" fill="none" stroke="#eb9038" stroke-width="2.3" stroke-opacity="0.78"/>
<circle cx="1749.2" cy="333.0" r="5.7" fill="none" stroke="#eb9038" stroke-width="2.3" stroke-opacity="0.78"/>
<circle cx="1808.0" cy="334.7" r="5.7" fill="none" stroke="#eb9038" stroke-width="2.3" stroke-opacity="0.78"/>
<circle cx="1886.0" cy="323.9" r="5.3" fill="#f09a48" fill-opacity="0.85"/>
<circle cx="1929.7" cy="334.2" r="5.4" fill="#4f7fc0" fill-opacity="0.7"/>
<circle cx="1943.2" cy="325.6" r="5.4" fill="#4f7fc0" fill-opacity="0.7"/>
<circle cx="1948.3" cy="333.7" r="5.4" fill="#4f7fc0" fill-opacity="0.7"/>
<text x="1614.4" y="337.3" font-size="20.37" text-anchor="end" fill="#4d4d4d">other (TARA_SAMEA2623601_METAG−scaffold_59−biosynth_1)</text>
<line x1="1624.0" y1="329.3" x2="1634.8" y2="329.3" stroke="#333" stroke-width="2.4"/>
<circle cx="1731.0" cy="356.1" r="5.7" fill="none" stroke="#eb9038" stroke-width="2.3" stroke-opacity="0.78"/>
<circle cx="1748.2" cy="353.7" r="5.7" fill="none" stroke="#eb9038" stroke-width="2.3" stroke-opacity="0.78"/>
<circle cx="1754.2" cy="354.4" r="5.7" fill="none" stroke="#eb9038" stroke-width="2.3" stroke-opacity="0.78"/>
<circle cx="1747.2" cy="363.5" r="5.7" fill="none" stroke="#eb9038" stroke-width="2.3" stroke-opacity="0.78"/>
<circle cx="1808.0" cy="352.7" r="5.7" fill="none" stroke="#eb9038" stroke-width="2.3" stroke-opacity="0.78"/>
<circle cx="1898.9" cy="361.1" r="5.3" fill="#f09a48" fill-opacity="0.85"/>
<circle cx="1914.8" cy="354.4" r="5.4" fill="#4f7fc0" fill-opacity="0.7"/>
<circle cx="1929.5" cy="359.8" r="5.4" fill="#4f7fc0" fill-opacity="0.7"/>
<circle cx="1930.5" cy="363.5" r="5.4" fill="#4f7fc0" fill-opacity="0.7"/>
<circle cx="1937.6" cy="359.8" r="5.4" fill="#4f7fc0" fill-opacity="0.7"/>
<circle cx="1940.6" cy="358.1" r="5.4" fill="#4f7fc0" fill-opacity="0.7"/>
<text x="1614.4" y="366.1" font-size="20.37" text-anchor="end" fill="#4d4d4d">NRPS−like (TARA_SAMEA2623601_METAG−scaffold_80−biosynth_1)</text>
<line x1="1624.0" y1="358.1" x2="1634.8" y2="358.1" stroke="#333" stroke-width="2.4"/>
<circle cx="1723.6" cy="388.5" r="5.7" fill="none" stroke="#eb9038" stroke-width="2.3" stroke-opacity="0.78"/>
<circle cx="1747.8" cy="386.1" r="5.7" fill="none" stroke="#eb9038" stroke-width="2.3" stroke-opacity="0.78"/>
<circle cx="1747.2" cy="388.5" r="5.7" fill="none" stroke="#eb9038" stroke-width="2.3" stroke-opacity="0.78"/>
<circle cx="1828.6" cy="389.0" r="5.3" fill="#f09a48" fill-opacity="0.85"/>
<circle cx="1833.4" cy="385.6" r="5.3" fill="#f09a48" fill-opacity="0.85"/>
<circle cx="1858.8" cy="392.2" r="5.3" fill="#f09a48" fill-opacity="0.85"/>
<circle cx="1895.1" cy="388.5" r="5.3" fill="#f09a48" fill-opacity="0.85"/>
<circle cx="1899.3" cy="391.5" r="5.4" fill="#4f7fc0" fill-opacity="0.7"/>
<circle cx="1917.4" cy="388.5" r="5.4" fill="#4f7fc0" fill-opacity="0.7"/>
<circle cx="1921.5" cy="385.6" r="5.4" fill="#4f7fc0" fill-opacity="0.7"/>
<circle cx="1929.5" cy="382.4" r="5.4" fill="#4f7fc0" fill-opacity="0.7"/>
<text x="1614.4" y="394.8" font-size="20.37" text-anchor="end" fill="#4d4d4d">NRPS−like (TARA_SAMEA2623601_METAG−scaffold_198−biosynth_1)</text>
<line x1="1624.0" y1="386.8" x2="1634.8" y2="386.8" stroke="#333" stroke-width="2.4"/>
<circle cx="1731.0" cy="419.7" r="5.7" fill="none" stroke="#eb9038" stroke-width="2.3" stroke-opacity="0.78"/>
<circle cx="1747.8" cy="412.3" r="5.7" fill="none" stroke="#eb9038" stroke-width="2.3" stroke-opacity="0.78"/>
<circle cx="1808.0" cy="419.0" r="5.7" fill="none" stroke="#eb9038" stroke-width="2.3" stroke-opacity="0.78"/>
<circle cx="1896.3" cy="410.6" r="5.3" fill="#f09a48" fill-opacity="0.85"/>
<circle cx="1907.4" cy="412.3" r="5.4" fill="#4f7fc0" fill-opacity="0.7"/>
<circle cx="1911.4" cy="412.3" r="5.4" fill="#4f7fc0" fill-opacity="0.7"/>
<circle cx="1912.4" cy="420.9" r="5.4" fill="#4f7fc0" fill-opacity="0.7"/>
<circle cx="1921.5" cy="418.0" r="5.4" fill="#4f7fc0" fill-opacity="0.7"/>
<circle cx="1928.3" cy="412.3" r="5.4" fill="#4f7fc0" fill-opacity="0.7"/>
<circle cx="1935.4" cy="416.0" r="5.4" fill="#4f7fc0" fill-opacity="0.7"/>
<circle cx="1955.5" cy="419.0" r="5.4" fill="#4f7fc0" fill-opacity="0.7"/>
<text x="1614.4" y="423.5" font-size="20.37" text-anchor="end" fill="#4d4d4d">NRPS−like (TARA_SAMEA2623601_METAG−scaffold_105−biosynth_1)</text>
<line x1="1624.0" y1="415.5" x2="1634.8" y2="415.5" stroke="#333" stroke-width="2.4"/>
<circle cx="1715.7" cy="449.9" r="5.7" fill="none" stroke="#eb9038" stroke-width="2.3" stroke-opacity="0.78"/>
<circle cx="1747.8" cy="440.5" r="5.7" fill="none" stroke="#eb9038" stroke-width="2.3" stroke-opacity="0.78"/>
<circle cx="1754.2" cy="445.4" r="5.7" fill="none" stroke="#eb9038" stroke-width="2.3" stroke-opacity="0.78"/>
<circle cx="1758.2" cy="449.1" r="5.7" fill="none" stroke="#eb9038" stroke-width="2.3" stroke-opacity="0.78"/>
<circle cx="1807.6" cy="441.7" r="5.7" fill="none" stroke="#eb9038" stroke-width="2.3" stroke-opacity="0.78"/>
<circle cx="1808.6" cy="445.9" r="5.7" fill="none" stroke="#eb9038" stroke-width="2.3" stroke-opacity="0.78"/>
<circle cx="1812.7" cy="444.9" r="5.3" fill="#f09a48" fill-opacity="0.85"/>
<circle cx="1824.7" cy="447.9" r="5.3" fill="#f09a48" fill-opacity="0.85"/>
<circle cx="1844.1" cy="443.5" r="5.3" fill="#f09a48" fill-opacity="0.85"/>
<circle cx="1915.6" cy="444.2" r="5.4" fill="#4f7fc0" fill-opacity="0.7"/>
<circle cx="1923.5" cy="440.0" r="5.4" fill="#4f7fc0" fill-opacity="0.7"/>
<circle cx="1946.2" cy="438.8" r="5.4" fill="#4f7fc0" fill-opacity="0.7"/>
<text x="1614.4" y="452.2" font-size="20.37" text-anchor="end" fill="#4d4d4d">microviridin (TARA_SAMEA2623601_METAG−scaffold_215−biosynth_1)</text>
<line x1="1624.0" y1="444.2" x2="1634.8" y2="444.2" stroke="#333" stroke-width="2.4"/>
<circle cx="1671.8" cy="467.7" r="5.7" fill="none" stroke="#eb9038" stroke-width="2.3" stroke-opacity="0.78"/>
<circle cx="1699.0" cy="475.1" r="5.7" fill="none" stroke="#eb9038" stroke-width="2.3" stroke-opacity="0.78"/>
<circle cx="1708.9" cy="478.3" r="5.7" fill="none" stroke="#eb9038" stroke-width="2.3" stroke-opacity="0.78"/>
<circle cx="1724.8" cy="472.7" r="5.7" fill="none" stroke="#eb9038" stroke-width="2.3" stroke-opacity="0.78"/>
<circle cx="1731.0" cy="478.3" r="5.7" fill="none" stroke="#eb9038" stroke-width="2.3" stroke-opacity="0.78"/>
<circle cx="1748.2" cy="469.2" r="5.7" fill="none" stroke="#eb9038" stroke-width="2.3" stroke-opacity="0.78"/>
<circle cx="1749.2" cy="472.2" r="5.7" fill="none" stroke="#eb9038" stroke-width="2.3" stroke-opacity="0.78"/>
<circle cx="1807.6" cy="469.7" r="5.7" fill="none" stroke="#eb9038" stroke-width="2.3" stroke-opacity="0.78"/>
<circle cx="1808.6" cy="474.6" r="5.7" fill="none" stroke="#eb9038" stroke-width="2.3" stroke-opacity="0.78"/>
<circle cx="1810.6" cy="473.4" r="5.3" fill="#f09a48" fill-opacity="0.85"/>
<circle cx="1818.7" cy="470.2" r="5.3" fill="#f09a48" fill-opacity="0.85"/>
<circle cx="1918.0" cy="469.7" r="5.4" fill="#4f7fc0" fill-opacity="0.7"/>
<circle cx="1930.9" cy="478.3" r="5.4" fill="#4f7fc0" fill-opacity="0.7"/>
<text x="1614.4" y="480.9" font-size="20.37" text-anchor="end" fill="#4d4d4d">lassopeptide (TARA_SAMEA2623601_METAG−scaffold_2161−biosynth_1)</text>
<line x1="1624.0" y1="472.9" x2="1634.8" y2="472.9" stroke="#333" stroke-width="2.4"/>
<circle cx="1748.2" cy="501.7" r="5.7" fill="none" stroke="#eb9038" stroke-width="2.3" stroke-opacity="0.78"/>
<circle cx="1752.2" cy="504.7" r="5.7" fill="none" stroke="#eb9038" stroke-width="2.3" stroke-opacity="0.78"/>
<circle cx="1756.2" cy="506.1" r="5.7" fill="none" stroke="#eb9038" stroke-width="2.3" stroke-opacity="0.78"/>
<circle cx="1916.0" cy="498.7" r="5.4" fill="#4f7fc0" fill-opacity="0.7"/>
<circle cx="1941.6" cy="498.0" r="5.4" fill="#4f7fc0" fill-opacity="0.7"/>
<circle cx="1943.6" cy="502.9" r="5.4" fill="#4f7fc0" fill-opacity="0.7"/>
<circle cx="1945.6" cy="506.6" r="5.4" fill="#4f7fc0" fill-opacity="0.7"/>
<circle cx="1948.7" cy="499.2" r="5.4" fill="#4f7fc0" fill-opacity="0.7"/>
<circle cx="1959.3" cy="498.0" r="5.4" fill="#4f7fc0" fill-opacity="0.7"/>
<circle cx="1979.7" cy="502.9" r="5.4" fill="#4f7fc0" fill-opacity="0.7"/>
<text x="1614.4" y="509.7" font-size="20.37" text-anchor="end" fill="#4d4d4d">ectoine (TARA_SAMEA2623601_METAG−scaffold_25−biosynth_1)</text>
<line x1="1624.0" y1="501.7" x2="1634.8" y2="501.7" stroke="#333" stroke-width="2.4"/>
<circle cx="1718.2" cy="528.4" r="5.7" fill="none" stroke="#eb9038" stroke-width="2.3" stroke-opacity="0.78"/>
<circle cx="1723.6" cy="536.3" r="5.7" fill="none" stroke="#eb9038" stroke-width="2.3" stroke-opacity="0.78"/>
<circle cx="1748.2" cy="526.9" r="5.7" fill="none" stroke="#eb9038" stroke-width="2.3" stroke-opacity="0.78"/>
<circle cx="1754.2" cy="528.4" r="5.7" fill="none" stroke="#eb9038" stroke-width="2.3" stroke-opacity="0.78"/>
<circle cx="1753.2" cy="533.9" r="5.7" fill="none" stroke="#eb9038" stroke-width="2.3" stroke-opacity="0.78"/>
<circle cx="1808.0" cy="526.4" r="5.7" fill="none" stroke="#eb9038" stroke-width="2.3" stroke-opacity="0.78"/>
<circle cx="1983.9" cy="526.4" r="5.3" fill="#f09a48" fill-opacity="0.85"/>
<circle cx="1984.9" cy="532.6" r="5.3" fill="#f09a48" fill-opacity="0.85"/>
<circle cx="2072.6" cy="529.4" r="5.3" fill="#f09a48" fill-opacity="0.85"/>
<circle cx="2081.5" cy="533.9" r="5.3" fill="#f09a48" fill-opacity="0.85"/>
<circle cx="1960.6" cy="526.9" r="5.4" fill="#4f7fc0" fill-opacity="0.7"/>
<text x="1614.4" y="538.4" font-size="20.37" text-anchor="end" fill="#4d4d4d">bacteriocin (TARA_SAMEA2623601_METAG−scaffold_274−biosynth_1)</text>
<line x1="1624.0" y1="530.4" x2="1634.8" y2="530.4" stroke="#333" stroke-width="2.4"/>
<circle cx="1754.2" cy="555.6" r="5.7" fill="none" stroke="#eb9038" stroke-width="2.3" stroke-opacity="0.78"/>
<circle cx="1754.6" cy="556.6" r="5.7" fill="none" stroke="#eb9038" stroke-width="2.3" stroke-opacity="0.78"/>
<circle cx="1985.9" cy="555.6" r="5.3" fill="#f09a48" fill-opacity="0.85"/>
<circle cx="1989.0" cy="553.7" r="5.3" fill="#f09a48" fill-opacity="0.85"/>
<circle cx="1993.4" cy="564.8" r="5.3" fill="#f09a48" fill-opacity="0.85"/>
<circle cx="1935.6" cy="555.6" r="5.4" fill="#4f7fc0" fill-opacity="0.7"/>
<circle cx="1941.6" cy="560.6" r="5.4" fill="#4f7fc0" fill-opacity="0.7"/>
<circle cx="1948.7" cy="556.6" r="5.4" fill="#4f7fc0" fill-opacity="0.7"/>
<circle cx="1940.6" cy="552.6" r="5.4" fill="#4f7fc0" fill-opacity="0.7"/>
<circle cx="1971.8" cy="553.7" r="5.4" fill="#4f7fc0" fill-opacity="0.7"/>
<circle cx="1973.9" cy="558.6" r="5.4" fill="#4f7fc0" fill-opacity="0.7"/>
<text x="1614.4" y="567.1" font-size="20.37" text-anchor="end" fill="#4d4d4d">bacteriocin (TARA_SAMEA2623601_METAG−scaffold_135−biosynth_1)</text>
<line x1="1624.0" y1="559.1" x2="1634.8" y2="559.1" stroke="#333" stroke-width="2.4"/>
<line x1="1637.3" y1="577.6" x2="1637.3" y2="587.7" stroke="#333" stroke-width="2.4"/>
<text x="1637.3" y="612.0" font-size="20.3" text-anchor="middle" fill="#4d4d4d">−15</text>
<line x1="1738.1" y1="577.6" x2="1738.1" y2="587.7" stroke="#333" stroke-width="2.4"/>
<text x="1738.1" y="612.0" font-size="20.3" text-anchor="middle" fill="#4d4d4d">−10</text>
<line x1="1838.8" y1="577.6" x2="1838.8" y2="587.7" stroke="#333" stroke-width="2.4"/>
<text x="1838.8" y="612.0" font-size="20.3" text-anchor="middle" fill="#4d4d4d">−5</text>
<line x1="1939.6" y1="577.6" x2="1939.6" y2="587.7" stroke="#333" stroke-width="2.4"/>
<text x="1939.6" y="612.0" font-size="20.3" text-anchor="middle" fill="#4d4d4d">0</text>
<line x1="2040.3" y1="577.6" x2="2040.3" y2="587.7" stroke="#333" stroke-width="2.4"/>
<text x="2040.3" y="612.0" font-size="20.3" text-anchor="middle" fill="#4d4d4d">5</text>
<text x="1878.7" y="641.2" font-size="20.37" text-anchor="middle">Median expression rate per sample (log2)</text>
<text x="1879.0" y="663.8" font-size="20.37" text-anchor="middle">(0 Indicates values similar to housekeeping genes)</text>
<text x="1279.4" y="79.6" font-size="24.45"><tspan font-style="italic">Ca.</tspan> Autonoemicrobium septentrionale</text>
<line x1="1642.1" y1="761.2" x2="1642.1" y2="1157.4" stroke="#ececec" stroke-width="1.7"/>
<line x1="1753.7" y1="761.2" x2="1753.7" y2="1157.4" stroke="#ececec" stroke-width="1.7"/>
<line x1="1865.4" y1="761.2" x2="1865.4" y2="1157.4" stroke="#ececec" stroke-width="1.7"/>
<line x1="1977.0" y1="761.2" x2="1977.0" y2="1157.4" stroke="#ececec" stroke-width="1.7"/>
<line x1="2088.7" y1="761.2" x2="2088.7" y2="1157.4" stroke="#ececec" stroke-width="1.7"/>
<line x1="1586.2" y1="761.2" x2="1586.2" y2="1157.4" stroke="#e7e7e7" stroke-width="2.0"/>
<line x1="1697.9" y1="761.2" x2="1697.9" y2="1157.4" stroke="#e7e7e7" stroke-width="2.0"/>
<line x1="1809.5" y1="761.2" x2="1809.5" y2="1157.4" stroke="#e7e7e7" stroke-width="2.0"/>
<line x1="1921.2" y1="761.2" x2="1921.2" y2="1157.4" stroke="#e7e7e7" stroke-width="2.0"/>
<line x1="2032.9" y1="761.2" x2="2032.9" y2="1157.4" stroke="#e7e7e7" stroke-width="2.0"/>
<line x1="1584.0" y1="778.0" x2="2121.0" y2="778.0" stroke="#e7e7e7" stroke-width="2.1"/>
<line x1="1584.0" y1="805.9" x2="2121.0" y2="805.9" stroke="#e7e7e7" stroke-width="2.1"/>
<line x1="1584.0" y1="833.8" x2="2121.0" y2="833.8" stroke="#e7e7e7" stroke-width="2.1"/>
<line x1="1584.0" y1="861.7" x2="2121.0" y2="861.7" stroke="#e7e7e7" stroke-width="2.1"/>
<line x1="1584.0" y1="889.6" x2="2121.0" y2="889.6" stroke="#e7e7e7" stroke-width="2.1"/>
<line x1="1584.0" y1="917.5" x2="2121.0" y2="917.5" stroke="#e7e7e7" stroke-width="2.1"/>
<line x1="1584.0" y1="945.3" x2="2121.0" y2="945.3" stroke="#e7e7e7" stroke-width="2.1"/>
<line x1="1584.0" y1="973.2" x2="2121.0" y2="973.2" stroke="#e7e7e7" stroke-width="2.1"/>
<line x1="1584.0" y1="1001.1" x2="2121.0" y2="1001.1" stroke="#e7e7e7" stroke-width="2.1"/>
<line x1="1584.0" y1="1029.0" x2="2121.0" y2="1029.0" stroke="#e7e7e7" stroke-width="2.1"/>
<line x1="1584.0" y1="1056.9" x2="2121.0" y2="1056.9" stroke="#e7e7e7" stroke-width="2.1"/>
<line x1="1584.0" y1="1084.8" x2="2121.0" y2="1084.8" stroke="#e7e7e7" stroke-width="2.1"/>
<line x1="1584.0" y1="1112.7" x2="2121.0" y2="1112.7" stroke="#e7e7e7" stroke-width="2.1"/>
<line x1="1584.0" y1="1140.6" x2="2121.0" y2="1140.6" stroke="#e7e7e7" stroke-width="2.1"/>
<line x1="1658.2" y1="778.0" x2="1691.2" y2="778.0" stroke="#333" stroke-width="1.7"/>
<line x1="1928.1" y1="778.0" x2="1933.5" y2="778.0" stroke="#333" stroke-width="1.7"/>
<rect x="1691.2" y="767.5" width="236.9" height="20.9" fill="#fff" stroke="#333" stroke-width="1.7"/>
<line x1="1885.5" y1="767.5" x2="1885.5" y2="788.5" stroke="#222" stroke-width="3.4"/>
<line x1="1625.1" y1="805.9" x2="1658.2" y2="805.9" stroke="#333" stroke-width="1.7"/>
<line x1="1938.4" y1="805.9" x2="1948.7" y2="805.9" stroke="#333" stroke-width="1.7"/>
<rect x="1658.2" y="795.4" width="280.2" height="20.9" fill="#fff" stroke="#333" stroke-width="1.7"/>
<line x1="1798.6" y1="795.4" x2="1798.6" y2="816.3" stroke="#222" stroke-width="3.4"/>
<line x1="1916.5" y1="833.8" x2="1933.0" y2="833.8" stroke="#333" stroke-width="1.7"/>
<rect x="1837.9" y="823.3" width="78.6" height="20.9" fill="#fff" stroke="#333" stroke-width="1.7"/>
<line x1="1906.9" y1="823.3" x2="1906.9" y2="844.2" stroke="#222" stroke-width="3.4"/>
<line x1="1658.2" y1="861.7" x2="1798.8" y2="861.7" stroke="#333" stroke-width="1.7"/>
<line x1="1913.2" y1="861.7" x2="1924.8" y2="861.7" stroke="#333" stroke-width="1.7"/>
<rect x="1798.8" y="851.2" width="114.3" height="20.9" fill="#fff" stroke="#333" stroke-width="1.7"/>
<line x1="1902.2" y1="851.2" x2="1902.2" y2="872.1" stroke="#222" stroke-width="3.4"/>
<line x1="1894.6" y1="889.6" x2="1905.6" y2="889.6" stroke="#333" stroke-width="1.7"/>
<line x1="1923.9" y1="889.6" x2="1929.0" y2="889.6" stroke="#333" stroke-width="1.7"/>
<rect x="1905.6" y="879.1" width="18.3" height="20.9" fill="#fff" stroke="#333" stroke-width="1.7"/>
<line x1="1915.2" y1="879.1" x2="1915.2" y2="900.0" stroke="#222" stroke-width="3.4"/>
<line x1="1625.1" y1="917.5" x2="1658.2" y2="917.5" stroke="#333" stroke-width="1.7"/>
<line x1="1926.1" y1="917.5" x2="1940.0" y2="917.5" stroke="#333" stroke-width="1.7"/>
<rect x="1658.2" y="907.0" width="268.0" height="20.9" fill="#fff" stroke="#333" stroke-width="1.7"/>
<line x1="1790.3" y1="907.0" x2="1790.3" y2="927.9" stroke="#222" stroke-width="3.4"/>
<line x1="1625.1" y1="945.3" x2="1658.2" y2="945.3" stroke="#333" stroke-width="1.7"/>
<line x1="1921.2" y1="945.3" x2="1925.7" y2="945.3" stroke="#333" stroke-width="1.7"/>
<rect x="1658.2" y="934.9" width="263.0" height="20.9" fill="#fff" stroke="#333" stroke-width="1.7"/>
<line x1="1779.9" y1="934.9" x2="1779.9" y2="955.8" stroke="#222" stroke-width="3.4"/>
<line x1="1912.3" y1="973.2" x2="1914.5" y2="973.2" stroke="#333" stroke-width="1.7"/>
<line x1="1925.7" y1="973.2" x2="1932.4" y2="973.2" stroke="#333" stroke-width="1.7"/>
<rect x="1914.5" y="962.8" width="11.2" height="20.9" fill="#fff" stroke="#333" stroke-width="1.7"/>
<line x1="1917.9" y1="962.8" x2="1917.9" y2="983.7" stroke="#222" stroke-width="3.4"/>
<line x1="1927.0" y1="1001.1" x2="1932.4" y2="1001.1" stroke="#333" stroke-width="1.7"/>
<rect x="1864.5" y="990.7" width="62.5" height="20.9" fill="#fff" stroke="#333" stroke-width="1.7"/>
<line x1="1917.9" y1="990.7" x2="1917.9" y2="1011.6" stroke="#222" stroke-width="3.4"/>
<line x1="1911.2" y1="1029.0" x2="1917.4" y2="1029.0" stroke="#333" stroke-width="1.7"/>
<line x1="1936.4" y1="1029.0" x2="1952.7" y2="1029.0" stroke="#333" stroke-width="1.7"/>
<rect x="1917.4" y="1018.6" width="19.0" height="20.9" fill="#fff" stroke="#333" stroke-width="1.7"/>
<line x1="1921.2" y1="1018.6" x2="1921.2" y2="1039.5" stroke="#222" stroke-width="3.4"/>
<line x1="1658.2" y1="1056.9" x2="1758.9" y2="1056.9" stroke="#333" stroke-width="1.7"/>
<line x1="1924.8" y1="1056.9" x2="1938.4" y2="1056.9" stroke="#333" stroke-width="1.7"/>
<rect x="1758.9" y="1046.4" width="165.9" height="20.9" fill="#fff" stroke="#333" stroke-width="1.7"/>
<line x1="1804.0" y1="1046.4" x2="1804.0" y2="1067.4" stroke="#222" stroke-width="3.4"/>
<line x1="1922.1" y1="1084.8" x2="1930.1" y2="1084.8" stroke="#333" stroke-width="1.7"/>
<rect x="1869.4" y="1074.3" width="52.7" height="20.9" fill="#fff" stroke="#333" stroke-width="1.7"/>
<line x1="1906.5" y1="1074.3" x2="1906.5" y2="1095.2" stroke="#222" stroke-width="3.4"/>
<line x1="1947.5" y1="1112.7" x2="1952.2" y2="1112.7" stroke="#333" stroke-width="1.7"/>
<rect x="1867.2" y="1102.2" width="80.4" height="20.9" fill="#fff" stroke="#333" stroke-width="1.7"/>
<line x1="1937.1" y1="1102.2" x2="1937.1" y2="1123.1" stroke="#222" stroke-width="3.4"/>
<line x1="1658.2" y1="1140.6" x2="1714.4" y2="1140.6" stroke="#333" stroke-width="1.7"/>
<line x1="1927.0" y1="1140.6" x2="1936.8" y2="1140.6" stroke="#333" stroke-width="1.7"/>
<rect x="1714.4" y="1130.1" width="212.6" height="20.9" fill="#fff" stroke="#333" stroke-width="1.7"/>
<line x1="1923.4" y1="1130.1" x2="1923.4" y2="1151.0" stroke="#222" stroke-width="3.4"/>
<line x1="1921.2" y1="761.2" x2="1921.2" y2="1157.4" stroke="#000" stroke-width="1.9" stroke-dasharray="5.5,4.5"/>
<circle cx="1658.2" cy="776.0" r="5.7" fill="none" stroke="#eb9038" stroke-width="2.3" stroke-opacity="0.78"/>
<circle cx="1658.2" cy="783.0" r="5.7" fill="none" stroke="#eb9038" stroke-width="2.3" stroke-opacity="0.78"/>
<circle cx="1701.7" cy="783.0" r="5.7" fill="none" stroke="#eb9038" stroke-width="2.3" stroke-opacity="0.78"/>
<circle cx="1851.3" cy="776.6" r="5.3" fill="#f09a48" fill-opacity="0.85"/>
<circle cx="1919.4" cy="774.2" r="5.4" fill="#4f7fc0" fill-opacity="0.7"/>
<circle cx="1927.9" cy="772.0" r="5.4" fill="#4f7fc0" fill-opacity="0.7"/>
<circle cx="1931.2" cy="776.1" r="5.4" fill="#4f7fc0" fill-opacity="0.7"/>
<circle cx="1933.5" cy="777.5" r="5.4" fill="#4f7fc0" fill-opacity="0.7"/>
<text x="1563.8" y="786.0" font-size="20.37" text-anchor="end" fill="#4d4d4d">terpene (TARA_SAMEA2730749_METAG−scaffold_339−biosynth_1)</text>
<line x1="1572.8" y1="778.0" x2="1584.0" y2="778.0" stroke="#333" stroke-width="2.4"/>
<circle cx="1624.4" cy="810.0" r="5.7" fill="none" stroke="#eb9038" stroke-width="2.3" stroke-opacity="0.78"/>
<circle cx="1658.2" cy="805.9" r="5.7" fill="none" stroke="#eb9038" stroke-width="2.3" stroke-opacity="0.78"/>
<circle cx="1662.2" cy="807.3" r="5.7" fill="none" stroke="#eb9038" stroke-width="2.3" stroke-opacity="0.78"/>
<circle cx="1664.4" cy="807.8" r="5.7" fill="none" stroke="#eb9038" stroke-width="2.3" stroke-opacity="0.78"/>
<circle cx="1934.6" cy="807.3" r="5.4" fill="#4f7fc0" fill-opacity="0.7"/>
<circle cx="1937.9" cy="805.9" r="5.4" fill="#4f7fc0" fill-opacity="0.7"/>
<circle cx="1948.7" cy="805.9" r="5.4" fill="#4f7fc0" fill-opacity="0.7"/>
<text x="1563.8" y="813.9" font-size="20.37" text-anchor="end" fill="#4d4d4d">terpene (TARA_SAMEA2730749_METAG−scaffold_28−biosynth_1)</text>
<line x1="1572.8" y1="805.9" x2="1584.0" y2="805.9" stroke="#333" stroke-width="2.4"/>
<circle cx="1658.2" cy="829.1" r="5.7" fill="none" stroke="#eb9038" stroke-width="2.3" stroke-opacity="0.78"/>
<circle cx="1658.2" cy="836.8" r="5.7" fill="none" stroke="#eb9038" stroke-width="2.3" stroke-opacity="0.78"/>
<circle cx="1897.3" cy="831.9" r="5.4" fill="#4f7fc0" fill-opacity="0.7"/>
<circle cx="1902.2" cy="830.5" r="5.4" fill="#4f7fc0" fill-opacity="0.7"/>
<circle cx="1907.8" cy="830.5" r="5.4" fill="#4f7fc0" fill-opacity="0.7"/>
<circle cx="1911.2" cy="830.5" r="5.4" fill="#4f7fc0" fill-opacity="0.7"/>
<circle cx="1925.7" cy="836.8" r="5.4" fill="#4f7fc0" fill-opacity="0.7"/>
<circle cx="1933.0" cy="837.4" r="5.4" fill="#4f7fc0" fill-opacity="0.7"/>
<text x="1563.8" y="841.8" font-size="20.37" text-anchor="end" fill="#4d4d4d">terpene (TARA_SAMEA2730749_METAG−scaffold_108−biosynth_1)</text>
<line x1="1572.8" y1="833.8" x2="1584.0" y2="833.8" stroke="#333" stroke-width="2.4"/>
<circle cx="1658.2" cy="857.6" r="5.7" fill="none" stroke="#eb9038" stroke-width="2.3" stroke-opacity="0.78"/>
<circle cx="1658.2" cy="865.0" r="5.7" fill="none" stroke="#eb9038" stroke-width="2.3" stroke-opacity="0.78"/>
<circle cx="1845.7" cy="858.4" r="5.3" fill="#f09a48" fill-opacity="0.85"/>
<circle cx="1898.9" cy="856.2" r="5.4" fill="#4f7fc0" fill-opacity="0.7"/>
<circle cx="1906.9" cy="859.5" r="5.4" fill="#4f7fc0" fill-opacity="0.7"/>
<circle cx="1917.9" cy="860.9" r="5.4" fill="#4f7fc0" fill-opacity="0.7"/>
<circle cx="1924.8" cy="859.5" r="5.4" fill="#4f7fc0" fill-opacity="0.7"/>
<text x="1563.8" y="869.7" font-size="20.37" text-anchor="end" fill="#4d4d4d">T3PKS (TARA_SAMEA2730749_METAG−scaffold_127−biosynth_1)</text>
<line x1="1572.8" y1="861.7" x2="1584.0" y2="861.7" stroke="#333" stroke-width="2.4"/>
<circle cx="1893.7" cy="891.8" r="5.4" fill="#4f7fc0" fill-opacity="0.7"/>
<circle cx="1909.6" cy="888.2" r="5.4" fill="#4f7fc0" fill-opacity="0.7"/>
<circle cx="1920.8" cy="889.6" r="5.4" fill="#4f7fc0" fill-opacity="0.7"/>
<circle cx="1929.0" cy="891.0" r="5.4" fill="#4f7fc0" fill-opacity="0.7"/>
<text x="1563.8" y="897.6" font-size="20.37" text-anchor="end" fill="#4d4d4d">siderophore (TARA_SAMEA2730749_METAG−scaffold_254−biosynth_1)</text>
<line x1="1572.8" y1="889.6" x2="1584.0" y2="889.6" stroke="#333" stroke-width="2.4"/>
<circle cx="1624.4" cy="913.9" r="5.7" fill="none" stroke="#eb9038" stroke-width="2.3" stroke-opacity="0.78"/>
<circle cx="1658.2" cy="918.0" r="5.7" fill="none" stroke="#eb9038" stroke-width="2.3" stroke-opacity="0.78"/>
<circle cx="1662.2" cy="916.7" r="5.7" fill="none" stroke="#eb9038" stroke-width="2.3" stroke-opacity="0.78"/>
<circle cx="1664.4" cy="916.1" r="5.7" fill="none" stroke="#eb9038" stroke-width="2.3" stroke-opacity="0.78"/>
<circle cx="1917.9" cy="913.4" r="5.4" fill="#4f7fc0" fill-opacity="0.7"/>
<circle cx="1923.4" cy="912.0" r="5.4" fill="#4f7fc0" fill-opacity="0.7"/>
<circle cx="1931.7" cy="918.9" r="5.4" fill="#4f7fc0" fill-opacity="0.7"/>
<circle cx="1940.0" cy="921.6" r="5.4" fill="#4f7fc0" fill-opacity="0.7"/>
<text x="1563.8" y="925.5" font-size="20.37" text-anchor="end" fill="#4d4d4d">NRPS−like (TARA_SAMEA2730749_METAG−scaffold_3317−biosynth_1)</text>
<line x1="1572.8" y1="917.5" x2="1584.0" y2="917.5" stroke="#333" stroke-width="2.4"/>
<circle cx="1624.4" cy="946.4" r="5.7" fill="none" stroke="#eb9038" stroke-width="2.3" stroke-opacity="0.78"/>
<circle cx="1658.2" cy="945.3" r="5.7" fill="none" stroke="#eb9038" stroke-width="2.3" stroke-opacity="0.78"/>
<circle cx="1662.2" cy="942.8" r="5.7" fill="none" stroke="#eb9038" stroke-width="2.3" stroke-opacity="0.78"/>
<circle cx="1897.3" cy="940.9" r="5.4" fill="#4f7fc0" fill-opacity="0.7"/>
<circle cx="1916.7" cy="942.0" r="5.4" fill="#4f7fc0" fill-opacity="0.7"/>
<circle cx="1921.2" cy="945.6" r="5.4" fill="#4f7fc0" fill-opacity="0.7"/>
<circle cx="1925.7" cy="946.4" r="5.4" fill="#4f7fc0" fill-opacity="0.7"/>
<text x="1563.8" y="953.3" font-size="20.37" text-anchor="end" fill="#4d4d4d">NRPS−like (TARA_SAMEA2730749_METAG−scaffold_268−biosynth_1)</text>
<line x1="1572.8" y1="945.3" x2="1584.0" y2="945.3" stroke="#333" stroke-width="2.4"/>
<circle cx="1701.7" cy="974.0" r="5.7" fill="none" stroke="#eb9038" stroke-width="2.3" stroke-opacity="0.78"/>
<circle cx="1912.3" cy="967.2" r="5.4" fill="#4f7fc0" fill-opacity="0.7"/>
<circle cx="1914.5" cy="971.3" r="5.4" fill="#4f7fc0" fill-opacity="0.7"/>
<circle cx="1919.0" cy="968.5" r="5.4" fill="#4f7fc0" fill-opacity="0.7"/>
<circle cx="1923.4" cy="966.2" r="5.4" fill="#4f7fc0" fill-opacity="0.7"/>
<circle cx="1929.0" cy="968.5" r="5.4" fill="#4f7fc0" fill-opacity="0.7"/>
<circle cx="1932.4" cy="972.7" r="5.4" fill="#4f7fc0" fill-opacity="0.7"/>
<text x="1563.8" y="981.2" font-size="20.37" text-anchor="end" fill="#4d4d4d">NRPS−like (TARA_SAMEA2730749_METAG−scaffold_1240−biosynth_1)</text>
<line x1="1572.8" y1="973.2" x2="1584.0" y2="973.2" stroke="#333" stroke-width="2.4"/>
<circle cx="1662.8" cy="1004.4" r="5.7" fill="none" stroke="#eb9038" stroke-width="2.3" stroke-opacity="0.78"/>
<circle cx="1718.2" cy="997.5" r="5.7" fill="none" stroke="#eb9038" stroke-width="2.3" stroke-opacity="0.78"/>
<circle cx="1912.3" cy="998.4" r="5.4" fill="#4f7fc0" fill-opacity="0.7"/>
<circle cx="1916.7" cy="1003.8" r="5.4" fill="#4f7fc0" fill-opacity="0.7"/>
<circle cx="1923.4" cy="995.6" r="5.4" fill="#4f7fc0" fill-opacity="0.7"/>
<circle cx="1929.0" cy="998.4" r="5.4" fill="#4f7fc0" fill-opacity="0.7"/>
<circle cx="1932.4" cy="999.7" r="5.4" fill="#4f7fc0" fill-opacity="0.7"/>
<text x="1563.8" y="1009.1" font-size="20.37" text-anchor="end" fill="#4d4d4d">microviridin (TARA_SAMEA2730749_METAG−scaffold_1709−biosynth_1)</text>
<line x1="1572.8" y1="1001.1" x2="1584.0" y2="1001.1" stroke="#333" stroke-width="2.4"/>
<circle cx="2012.1" cy="1030.9" r="5.3" fill="#f09a48" fill-opacity="0.85"/>
<circle cx="1911.2" cy="1027.6" r="5.4" fill="#4f7fc0" fill-opacity="0.7"/>
<circle cx="1915.6" cy="1030.4" r="5.4" fill="#4f7fc0" fill-opacity="0.7"/>
<circle cx="1922.3" cy="1026.3" r="5.4" fill="#4f7fc0" fill-opacity="0.7"/>
<circle cx="1930.1" cy="1030.9" r="5.4" fill="#4f7fc0" fill-opacity="0.7"/>
<circle cx="1952.7" cy="1025.7" r="5.4" fill="#4f7fc0" fill-opacity="0.7"/>
<text x="1563.8" y="1037.0" font-size="20.37" text-anchor="end" fill="#4d4d4d">microviridin (TARA_SAMEA2730749_METAG−scaffold_1303−biosynth_1)</text>
<line x1="1572.8" y1="1029.0" x2="1584.0" y2="1029.0" stroke="#333" stroke-width="2.4"/>
<circle cx="1658.2" cy="1062.4" r="5.7" fill="none" stroke="#eb9038" stroke-width="2.3" stroke-opacity="0.78"/>
<circle cx="1733.6" cy="1052.8" r="5.3" fill="#f09a48" fill-opacity="0.85"/>
<circle cx="1767.8" cy="1055.5" r="5.3" fill="#f09a48" fill-opacity="0.85"/>
<circle cx="1789.0" cy="1061.0" r="5.3" fill="#f09a48" fill-opacity="0.85"/>
<circle cx="1818.7" cy="1051.7" r="5.3" fill="#f09a48" fill-opacity="0.85"/>
<circle cx="1920.1" cy="1057.7" r="5.4" fill="#4f7fc0" fill-opacity="0.7"/>
<circle cx="1938.4" cy="1052.2" r="5.4" fill="#4f7fc0" fill-opacity="0.7"/>
<circle cx="1938.6" cy="1057.7" r="5.4" fill="#4f7fc0" fill-opacity="0.7"/>
<text x="1563.8" y="1064.9" font-size="20.37" text-anchor="end" fill="#4d4d4d">lassopeptide (TARA_SAMEA2730749_METAG−scaffold_245−biosynth_1)</text>
<line x1="1572.8" y1="1056.9" x2="1584.0" y2="1056.9" stroke="#333" stroke-width="2.4"/>
<circle cx="1658.2" cy="1088.1" r="5.7" fill="none" stroke="#eb9038" stroke-width="2.3" stroke-opacity="0.78"/>
<circle cx="1767.8" cy="1088.9" r="5.3" fill="#f09a48" fill-opacity="0.85"/>
<circle cx="1901.1" cy="1085.3" r="5.4" fill="#4f7fc0" fill-opacity="0.7"/>
<circle cx="1907.8" cy="1079.9" r="5.4" fill="#4f7fc0" fill-opacity="0.7"/>
<circle cx="1902.2" cy="1086.7" r="5.4" fill="#4f7fc0" fill-opacity="0.7"/>
<circle cx="1921.2" cy="1088.9" r="5.4" fill="#4f7fc0" fill-opacity="0.7"/>
<circle cx="1925.7" cy="1086.7" r="5.4" fill="#4f7fc0" fill-opacity="0.7"/>
<circle cx="1930.1" cy="1084.8" r="5.4" fill="#4f7fc0" fill-opacity="0.7"/>
<text x="1563.8" y="1092.8" font-size="20.37" text-anchor="end" fill="#4d4d4d">hglE−KS;T1PKS (TARA_SAMEA2730749_METAG−scaffold_1170−biosynth_1)</text>
<line x1="1572.8" y1="1084.8" x2="1584.0" y2="1084.8" stroke="#333" stroke-width="2.4"/>
<circle cx="1658.2" cy="1112.2" r="5.7" fill="none" stroke="#eb9038" stroke-width="2.3" stroke-opacity="0.78"/>
<circle cx="1718.2" cy="1116.8" r="5.7" fill="none" stroke="#eb9038" stroke-width="2.3" stroke-opacity="0.78"/>
<circle cx="1916.1" cy="1109.1" r="5.4" fill="#4f7fc0" fill-opacity="0.7"/>
<circle cx="1931.7" cy="1113.5" r="5.4" fill="#4f7fc0" fill-opacity="0.7"/>
<circle cx="1943.5" cy="1108.6" r="5.4" fill="#4f7fc0" fill-opacity="0.7"/>
<circle cx="1948.0" cy="1110.0" r="5.4" fill="#4f7fc0" fill-opacity="0.7"/>
<circle cx="1952.2" cy="1113.5" r="5.4" fill="#4f7fc0" fill-opacity="0.7"/>
<text x="1563.8" y="1120.7" font-size="20.37" text-anchor="end" fill="#4d4d4d">ectoine (TARA_SAMEA2730749_METAG−scaffold_794−biosynth_1)</text>
<line x1="1572.8" y1="1112.7" x2="1584.0" y2="1112.7" stroke="#333" stroke-width="2.4"/>
<circle cx="1658.2" cy="1135.7" r="5.7" fill="none" stroke="#eb9038" stroke-width="2.3" stroke-opacity="0.78"/>
<circle cx="1701.7" cy="1135.7" r="5.7" fill="none" stroke="#eb9038" stroke-width="2.3" stroke-opacity="0.78"/>
<circle cx="1718.2" cy="1140.6" r="5.7" fill="none" stroke="#eb9038" stroke-width="2.3" stroke-opacity="0.78"/>
<circle cx="1917.9" cy="1137.0" r="5.4" fill="#4f7fc0" fill-opacity="0.7"/>
<circle cx="1924.5" cy="1141.1" r="5.4" fill="#4f7fc0" fill-opacity="0.7"/>
<circle cx="1927.9" cy="1142.5" r="5.4" fill="#4f7fc0" fill-opacity="0.7"/>
<circle cx="1936.8" cy="1137.9" r="5.4" fill="#4f7fc0" fill-opacity="0.7"/>
<text x="1563.8" y="1148.6" font-size="20.37" text-anchor="end" fill="#4d4d4d">bacteriocin (TARA_SAMEA2730749_METAG−scaffold_354−biosynth_1)</text>
<line x1="1572.8" y1="1140.6" x2="1584.0" y2="1140.6" stroke="#333" stroke-width="2.4"/>
<line x1="1586.2" y1="1157.4" x2="1586.2" y2="1168.0" stroke="#333" stroke-width="2.4"/>
<text x="1586.2" y="1192.6" font-size="20.3" text-anchor="middle" fill="#4d4d4d">−15</text>
<line x1="1697.9" y1="1157.4" x2="1697.9" y2="1168.0" stroke="#333" stroke-width="2.4"/>
<text x="1697.9" y="1192.6" font-size="20.3" text-anchor="middle" fill="#4d4d4d">−10</text>
<line x1="1809.5" y1="1157.4" x2="1809.5" y2="1168.0" stroke="#333" stroke-width="2.4"/>
<text x="1809.5" y="1192.6" font-size="20.3" text-anchor="middle" fill="#4d4d4d">−5</text>
<line x1="1921.2" y1="1157.4" x2="1921.2" y2="1168.0" stroke="#333" stroke-width="2.4"/>
<text x="1921.2" y="1192.6" font-size="20.3" text-anchor="middle" fill="#4d4d4d">0</text>
<line x1="2032.9" y1="1157.4" x2="2032.9" y2="1168.0" stroke="#333" stroke-width="2.4"/>
<text x="2032.9" y="1192.6" font-size="20.3" text-anchor="middle" fill="#4d4d4d">5</text>
<text x="1853.9" y="1222.6" font-size="20.37" text-anchor="middle">Median expression rate per sample (log2)</text>
<text x="1854.2" y="1244.0" font-size="20.37" text-anchor="middle">(0 Indicates values similar to housekeeping genes)</text>
<text x="1306.2" y="730.0" font-size="24.45"><tspan font-style="italic">Ca.</tspan> Amphithoemicrobium indianii</text>
<line x1="1626.1" y1="1340.0" x2="1626.1" y2="1840.7" stroke="#ececec" stroke-width="1.7"/>
<line x1="1741.7" y1="1340.0" x2="1741.7" y2="1840.7" stroke="#ececec" stroke-width="1.7"/>
<line x1="1857.3" y1="1340.0" x2="1857.3" y2="1840.7" stroke="#ececec" stroke-width="1.7"/>
<line x1="1972.9" y1="1340.0" x2="1972.9" y2="1840.7" stroke="#ececec" stroke-width="1.7"/>
<line x1="2088.5" y1="1340.0" x2="2088.5" y2="1840.7" stroke="#ececec" stroke-width="1.7"/>
<line x1="1568.3" y1="1340.0" x2="1568.3" y2="1840.7" stroke="#e7e7e7" stroke-width="2.0"/>
<line x1="1683.9" y1="1340.0" x2="1683.9" y2="1840.7" stroke="#e7e7e7" stroke-width="2.0"/>
<line x1="1799.5" y1="1340.0" x2="1799.5" y2="1840.7" stroke="#e7e7e7" stroke-width="2.0"/>
<line x1="1915.1" y1="1340.0" x2="1915.1" y2="1840.7" stroke="#e7e7e7" stroke-width="2.0"/>
<line x1="2030.7" y1="1340.0" x2="2030.7" y2="1840.7" stroke="#e7e7e7" stroke-width="2.0"/>
<line x1="1567.5" y1="1357.5" x2="2121.0" y2="1357.5" stroke="#e7e7e7" stroke-width="2.1"/>
<line x1="1567.5" y1="1386.6" x2="2121.0" y2="1386.6" stroke="#e7e7e7" stroke-width="2.1"/>
<line x1="1567.5" y1="1415.7" x2="2121.0" y2="1415.7" stroke="#e7e7e7" stroke-width="2.1"/>
<line x1="1567.5" y1="1444.8" x2="2121.0" y2="1444.8" stroke="#e7e7e7" stroke-width="2.1"/>
<line x1="1567.5" y1="1473.9" x2="2121.0" y2="1473.9" stroke="#e7e7e7" stroke-width="2.1"/>
<line x1="1567.5" y1="1503.0" x2="2121.0" y2="1503.0" stroke="#e7e7e7" stroke-width="2.1"/>
<line x1="1567.5" y1="1532.2" x2="2121.0" y2="1532.2" stroke="#e7e7e7" stroke-width="2.1"/>
<line x1="1567.5" y1="1561.3" x2="2121.0" y2="1561.3" stroke="#e7e7e7" stroke-width="2.1"/>
<line x1="1567.5" y1="1590.4" x2="2121.0" y2="1590.4" stroke="#e7e7e7" stroke-width="2.1"/>
<line x1="1567.5" y1="1619.5" x2="2121.0" y2="1619.5" stroke="#e7e7e7" stroke-width="2.1"/>
<line x1="1567.5" y1="1648.6" x2="2121.0" y2="1648.6" stroke="#e7e7e7" stroke-width="2.1"/>
<line x1="1567.5" y1="1677.7" x2="2121.0" y2="1677.7" stroke="#e7e7e7" stroke-width="2.1"/>
<line x1="1567.5" y1="1706.8" x2="2121.0" y2="1706.8" stroke="#e7e7e7" stroke-width="2.1"/>
<line x1="1567.5" y1="1735.9" x2="2121.0" y2="1735.9" stroke="#e7e7e7" stroke-width="2.1"/>
<line x1="1567.5" y1="1765.0" x2="2121.0" y2="1765.0" stroke="#e7e7e7" stroke-width="2.1"/>
<line x1="1567.5" y1="1794.2" x2="2121.0" y2="1794.2" stroke="#e7e7e7" stroke-width="2.1"/>
<line x1="1567.5" y1="1823.3" x2="2121.0" y2="1823.3" stroke="#e7e7e7" stroke-width="2.1"/>
<line x1="1675.6" y1="1357.5" x2="1693.8" y2="1357.5" stroke="#333" stroke-width="1.7"/>
<line x1="1920.0" y1="1357.5" x2="1927.8" y2="1357.5" stroke="#333" stroke-width="1.7"/>
<rect x="1693.8" y="1346.6" width="226.1" height="21.8" fill="#fff" stroke="#333" stroke-width="1.7"/>
<line x1="1875.6" y1="1346.6" x2="1875.6" y2="1368.4" stroke="#222" stroke-width="3.4"/>
<line x1="1672.3" y1="1386.6" x2="1679.7" y2="1386.6" stroke="#333" stroke-width="1.7"/>
<line x1="1817.1" y1="1386.6" x2="1944.7" y2="1386.6" stroke="#333" stroke-width="1.7"/>
<rect x="1679.7" y="1375.7" width="137.3" height="21.8" fill="#fff" stroke="#333" stroke-width="1.7"/>
<line x1="1680.7" y1="1375.7" x2="1680.7" y2="1397.5" stroke="#222" stroke-width="3.4"/>
<line x1="1672.3" y1="1415.7" x2="1678.4" y2="1415.7" stroke="#333" stroke-width="1.7"/>
<line x1="1906.1" y1="1415.7" x2="1922.7" y2="1415.7" stroke="#333" stroke-width="1.7"/>
<rect x="1678.4" y="1404.8" width="227.7" height="21.8" fill="#fff" stroke="#333" stroke-width="1.7"/>
<line x1="1882.7" y1="1404.8" x2="1882.7" y2="1426.6" stroke="#222" stroke-width="3.4"/>
<line x1="1675.6" y1="1444.8" x2="1786.3" y2="1444.8" stroke="#333" stroke-width="1.7"/>
<line x1="1918.8" y1="1444.8" x2="1933.4" y2="1444.8" stroke="#333" stroke-width="1.7"/>
<rect x="1786.3" y="1433.9" width="132.5" height="21.8" fill="#fff" stroke="#333" stroke-width="1.7"/>
<line x1="1906.1" y1="1433.9" x2="1906.1" y2="1455.7" stroke="#222" stroke-width="3.4"/>
<line x1="1675.6" y1="1473.9" x2="1692.9" y2="1473.9" stroke="#333" stroke-width="1.7"/>
<line x1="1907.2" y1="1473.9" x2="1912.8" y2="1473.9" stroke="#333" stroke-width="1.7"/>
<rect x="1692.9" y="1463.0" width="214.3" height="21.8" fill="#fff" stroke="#333" stroke-width="1.7"/>
<line x1="1706.6" y1="1463.0" x2="1706.6" y2="1484.9" stroke="#222" stroke-width="3.4"/>
<line x1="1672.3" y1="1503.0" x2="1678.4" y2="1503.0" stroke="#333" stroke-width="1.7"/>
<line x1="1894.5" y1="1503.0" x2="1927.8" y2="1503.0" stroke="#333" stroke-width="1.7"/>
<rect x="1678.4" y="1492.1" width="216.2" height="21.8" fill="#fff" stroke="#333" stroke-width="1.7"/>
<line x1="1706.6" y1="1492.1" x2="1706.6" y2="1514.0" stroke="#222" stroke-width="3.4"/>
<line x1="1888.3" y1="1532.2" x2="1894.5" y2="1532.2" stroke="#333" stroke-width="1.7"/>
<line x1="1939.1" y1="1532.2" x2="1954.6" y2="1532.2" stroke="#333" stroke-width="1.7"/>
<rect x="1894.5" y="1521.2" width="44.6" height="21.8" fill="#fff" stroke="#333" stroke-width="1.7"/>
<line x1="1915.6" y1="1521.2" x2="1915.6" y2="1543.1" stroke="#222" stroke-width="3.4"/>
<line x1="1792.6" y1="1561.3" x2="1835.8" y2="1561.3" stroke="#333" stroke-width="1.7"/>
<line x1="1927.8" y1="1561.3" x2="1981.2" y2="1561.3" stroke="#333" stroke-width="1.7"/>
<rect x="1835.8" y="1550.4" width="92.0" height="21.8" fill="#fff" stroke="#333" stroke-width="1.7"/>
<line x1="1911.4" y1="1550.4" x2="1911.4" y2="1572.2" stroke="#222" stroke-width="3.4"/>
<line x1="1920.9" y1="1590.4" x2="1923.7" y2="1590.4" stroke="#333" stroke-width="1.7"/>
<line x1="1937.5" y1="1590.4" x2="1951.6" y2="1590.4" stroke="#333" stroke-width="1.7"/>
<rect x="1923.7" y="1579.5" width="13.9" height="21.8" fill="#fff" stroke="#333" stroke-width="1.7"/>
<line x1="1928.7" y1="1579.5" x2="1928.7" y2="1601.3" stroke="#222" stroke-width="3.4"/>
<line x1="1675.6" y1="1619.5" x2="1787.5" y2="1619.5" stroke="#333" stroke-width="1.7"/>
<line x1="1915.6" y1="1619.5" x2="1925.0" y2="1619.5" stroke="#333" stroke-width="1.7"/>
<rect x="1787.5" y="1608.6" width="128.1" height="21.8" fill="#fff" stroke="#333" stroke-width="1.7"/>
<line x1="1901.9" y1="1608.6" x2="1901.9" y2="1630.4" stroke="#222" stroke-width="3.4"/>
<line x1="1671.4" y1="1648.6" x2="1678.4" y2="1648.6" stroke="#333" stroke-width="1.7"/>
<line x1="1915.6" y1="1648.6" x2="1937.5" y2="1648.6" stroke="#333" stroke-width="1.7"/>
<rect x="1678.4" y="1637.7" width="237.2" height="21.8" fill="#fff" stroke="#333" stroke-width="1.7"/>
<line x1="1706.6" y1="1637.7" x2="1706.6" y2="1659.5" stroke="#222" stroke-width="3.4"/>
<line x1="1670.0" y1="1677.7" x2="1678.4" y2="1677.7" stroke="#333" stroke-width="1.7"/>
<line x1="1915.6" y1="1677.7" x2="1929.7" y2="1677.7" stroke="#333" stroke-width="1.7"/>
<rect x="1678.4" y="1666.8" width="237.2" height="21.8" fill="#fff" stroke="#333" stroke-width="1.7"/>
<line x1="1706.6" y1="1666.8" x2="1706.6" y2="1688.6" stroke="#222" stroke-width="3.4"/>
<line x1="1908.2" y1="1706.8" x2="1914.4" y2="1706.8" stroke="#333" stroke-width="1.7"/>
<line x1="1947.0" y1="1706.8" x2="1972.9" y2="1706.8" stroke="#333" stroke-width="1.7"/>
<rect x="1914.4" y="1695.9" width="32.6" height="21.8" fill="#fff" stroke="#333" stroke-width="1.7"/>
<line x1="1936.1" y1="1695.9" x2="1936.1" y2="1717.7" stroke="#222" stroke-width="3.4"/>
<line x1="1671.4" y1="1735.9" x2="1678.4" y2="1735.9" stroke="#333" stroke-width="1.7"/>
<line x1="1759.5" y1="1735.9" x2="1811.8" y2="1735.9" stroke="#333" stroke-width="1.7"/>
<rect x="1678.4" y="1725.0" width="81.2" height="21.8" fill="#fff" stroke="#333" stroke-width="1.7"/>
<line x1="1705.2" y1="1725.0" x2="1705.2" y2="1746.8" stroke="#222" stroke-width="3.4"/>
<line x1="1675.6" y1="1765.0" x2="1801.6" y2="1765.0" stroke="#333" stroke-width="1.7"/>
<line x1="1943.3" y1="1765.0" x2="1984.2" y2="1765.0" stroke="#333" stroke-width="1.7"/>
<rect x="1801.6" y="1754.1" width="141.7" height="21.8" fill="#fff" stroke="#333" stroke-width="1.7"/>
<line x1="1923.7" y1="1754.1" x2="1923.7" y2="1776.0" stroke="#222" stroke-width="3.4"/>
<line x1="1681.1" y1="1794.2" x2="1778.5" y2="1794.2" stroke="#333" stroke-width="1.7"/>
<line x1="1930.6" y1="1794.2" x2="1939.1" y2="1794.2" stroke="#333" stroke-width="1.7"/>
<rect x="1778.5" y="1783.2" width="152.1" height="21.8" fill="#fff" stroke="#333" stroke-width="1.7"/>
<line x1="1912.3" y1="1783.2" x2="1912.3" y2="1805.1" stroke="#222" stroke-width="3.4"/>
<line x1="1681.1" y1="1823.3" x2="1806.0" y2="1823.3" stroke="#333" stroke-width="1.7"/>
<line x1="1927.8" y1="1823.3" x2="1950.2" y2="1823.3" stroke="#333" stroke-width="1.7"/>
<rect x="1806.0" y="1812.3" width="121.8" height="21.8" fill="#fff" stroke="#333" stroke-width="1.7"/>
<line x1="1925.0" y1="1812.3" x2="1925.0" y2="1834.2" stroke="#222" stroke-width="3.4"/>
<line x1="1915.1" y1="1340.0" x2="1915.1" y2="1840.7" stroke="#000" stroke-width="1.9" stroke-dasharray="5.5,4.5"/>
<circle cx="1675.6" cy="1352.7" r="5.7" fill="none" stroke="#eb9038" stroke-width="2.3" stroke-opacity="0.78"/>
<circle cx="1680.7" cy="1364.0" r="5.7" fill="none" stroke="#eb9038" stroke-width="2.3" stroke-opacity="0.78"/>
<circle cx="1706.6" cy="1353.6" r="5.7" fill="none" stroke="#eb9038" stroke-width="2.3" stroke-opacity="0.78"/>
<circle cx="1875.6" cy="1360.3" r="5.4" fill="#4f7fc0" fill-opacity="0.7"/>
<circle cx="1916.5" cy="1354.1" r="5.4" fill="#4f7fc0" fill-opacity="0.7"/>
<circle cx="1922.0" cy="1355.5" r="5.4" fill="#4f7fc0" fill-opacity="0.7"/>
<circle cx="1927.8" cy="1353.6" r="5.4" fill="#4f7fc0" fill-opacity="0.7"/>
<text x="1545.0" y="1364.8" font-size="20.37" text-anchor="end" fill="#4d4d4d">thiopeptide;LAP (TARA_SAMEA2623054_METAG−scaffold_506−biosynth_1)</text>
<line x1="1555.4" y1="1357.5" x2="1566.2" y2="1357.5" stroke="#333" stroke-width="2.4"/>
<circle cx="1670.0" cy="1388.6" r="5.7" fill="none" stroke="#eb9038" stroke-width="2.3" stroke-opacity="0.78"/>
<circle cx="1677.0" cy="1385.2" r="5.7" fill="none" stroke="#eb9038" stroke-width="2.3" stroke-opacity="0.78"/>
<circle cx="1681.6" cy="1382.4" r="5.7" fill="none" stroke="#eb9038" stroke-width="2.3" stroke-opacity="0.78"/>
<circle cx="1706.6" cy="1382.9" r="5.7" fill="none" stroke="#eb9038" stroke-width="2.3" stroke-opacity="0.78"/>
<circle cx="1927.8" cy="1384.3" r="5.4" fill="#4f7fc0" fill-opacity="0.7"/>
<circle cx="1945.6" cy="1392.2" r="5.4" fill="#4f7fc0" fill-opacity="0.7"/>
<text x="1545.0" y="1393.9" font-size="20.37" text-anchor="end" fill="#4d4d4d">terpene (TARA_SAMEA2623054_METAG−scaffold_9082−biosynth_1)</text>
<line x1="1555.4" y1="1386.6" x2="1566.2" y2="1386.6" stroke="#333" stroke-width="2.4"/>
<circle cx="1672.3" cy="1414.9" r="5.7" fill="none" stroke="#eb9038" stroke-width="2.3" stroke-opacity="0.78"/>
<circle cx="1677.0" cy="1416.3" r="5.7" fill="none" stroke="#eb9038" stroke-width="2.3" stroke-opacity="0.78"/>
<circle cx="1681.6" cy="1412.9" r="5.7" fill="none" stroke="#eb9038" stroke-width="2.3" stroke-opacity="0.78"/>
<circle cx="1882.7" cy="1417.7" r="5.4" fill="#4f7fc0" fill-opacity="0.7"/>
<circle cx="1903.5" cy="1410.6" r="5.4" fill="#4f7fc0" fill-opacity="0.7"/>
<circle cx="1907.0" cy="1411.5" r="5.4" fill="#4f7fc0" fill-opacity="0.7"/>
<circle cx="1922.7" cy="1412.9" r="5.4" fill="#4f7fc0" fill-opacity="0.7"/>
<text x="1545.0" y="1423.0" font-size="20.37" text-anchor="end" fill="#4d4d4d">terpene (TARA_SAMEA2623054_METAG−scaffold_80−biosynth_1)</text>
<line x1="1555.4" y1="1415.7" x2="1566.2" y2="1415.7" stroke="#333" stroke-width="2.4"/>
<circle cx="1674.7" cy="1445.6" r="5.7" fill="none" stroke="#eb9038" stroke-width="2.3" stroke-opacity="0.78"/>
<circle cx="1681.6" cy="1449.3" r="5.7" fill="none" stroke="#eb9038" stroke-width="2.3" stroke-opacity="0.78"/>
<circle cx="1891.1" cy="1443.7" r="5.4" fill="#4f7fc0" fill-opacity="0.7"/>
<circle cx="1905.9" cy="1440.9" r="5.4" fill="#4f7fc0" fill-opacity="0.7"/>
<circle cx="1905.9" cy="1450.4" r="5.4" fill="#4f7fc0" fill-opacity="0.7"/>
<circle cx="1930.6" cy="1439.2" r="5.4" fill="#4f7fc0" fill-opacity="0.7"/>
<circle cx="1934.3" cy="1449.3" r="5.4" fill="#4f7fc0" fill-opacity="0.7"/>
<text x="1545.0" y="1452.1" font-size="20.37" text-anchor="end" fill="#4d4d4d">terpene (TARA_SAMEA2623054_METAG−scaffold_3915−biosynth_1)</text>
<line x1="1555.4" y1="1444.8" x2="1566.2" y2="1444.8" stroke="#333" stroke-width="2.4"/>
<circle cx="1674.7" cy="1468.3" r="5.7" fill="none" stroke="#eb9038" stroke-width="2.3" stroke-opacity="0.78"/>
<circle cx="1681.6" cy="1468.3" r="5.7" fill="none" stroke="#eb9038" stroke-width="2.3" stroke-opacity="0.78"/>
<circle cx="1707.0" cy="1469.7" r="5.7" fill="none" stroke="#eb9038" stroke-width="2.3" stroke-opacity="0.78"/>
<circle cx="1708.2" cy="1470.2" r="5.7" fill="none" stroke="#eb9038" stroke-width="2.3" stroke-opacity="0.78"/>
<circle cx="1905.9" cy="1471.9" r="5.4" fill="#4f7fc0" fill-opacity="0.7"/>
<circle cx="1909.3" cy="1475.3" r="5.4" fill="#4f7fc0" fill-opacity="0.7"/>
<circle cx="1912.8" cy="1476.7" r="5.4" fill="#4f7fc0" fill-opacity="0.7"/>
<text x="1545.0" y="1481.2" font-size="20.37" text-anchor="end" fill="#4d4d4d">T3PKS (TARA_SAMEA2623054_METAG−scaffold_378−biosynth_1)</text>
<line x1="1555.4" y1="1473.9" x2="1566.2" y2="1473.9" stroke="#333" stroke-width="2.4"/>
<circle cx="1670.0" cy="1503.0" r="5.7" fill="none" stroke="#eb9038" stroke-width="2.3" stroke-opacity="0.78"/>
<circle cx="1673.5" cy="1503.0" r="5.7" fill="none" stroke="#eb9038" stroke-width="2.3" stroke-opacity="0.78"/>
<circle cx="1681.6" cy="1500.2" r="5.7" fill="none" stroke="#eb9038" stroke-width="2.3" stroke-opacity="0.78"/>
<circle cx="1706.6" cy="1505.0" r="5.7" fill="none" stroke="#eb9038" stroke-width="2.3" stroke-opacity="0.78"/>
<circle cx="1889.2" cy="1507.8" r="5.4" fill="#4f7fc0" fill-opacity="0.7"/>
<circle cx="1899.6" cy="1506.5" r="5.4" fill="#4f7fc0" fill-opacity="0.7"/>
<circle cx="1927.8" cy="1508.5" r="5.4" fill="#4f7fc0" fill-opacity="0.7"/>
<text x="1545.0" y="1510.3" font-size="20.37" text-anchor="end" fill="#4d4d4d">T1PKS (TARA_SAMEA2623054_METAG−scaffold_638−biosynth_1)</text>
<line x1="1555.4" y1="1503.0" x2="1566.2" y2="1503.0" stroke="#333" stroke-width="2.4"/>
<circle cx="1675.6" cy="1528.8" r="5.7" fill="none" stroke="#eb9038" stroke-width="2.3" stroke-opacity="0.78"/>
<circle cx="1888.3" cy="1530.2" r="5.4" fill="#4f7fc0" fill-opacity="0.7"/>
<circle cx="1900.5" cy="1534.5" r="5.4" fill="#4f7fc0" fill-opacity="0.7"/>
<circle cx="1915.6" cy="1526.0" r="5.4" fill="#4f7fc0" fill-opacity="0.7"/>
<circle cx="1926.9" cy="1532.2" r="5.4" fill="#4f7fc0" fill-opacity="0.7"/>
<circle cx="1949.8" cy="1531.6" r="5.4" fill="#4f7fc0" fill-opacity="0.7"/>
<circle cx="1954.4" cy="1533.0" r="5.4" fill="#4f7fc0" fill-opacity="0.7"/>
<text x="1545.0" y="1539.5" font-size="20.37" text-anchor="end" fill="#4d4d4d">siderophore (TARA_SAMEA2623054_METAG−scaffold_22669−biosynth_1)</text>
<line x1="1555.4" y1="1532.2" x2="1566.2" y2="1532.2" stroke="#333" stroke-width="2.4"/>
<circle cx="1675.1" cy="1566.4" r="5.7" fill="none" stroke="#eb9038" stroke-width="2.3" stroke-opacity="0.78"/>
<circle cx="1792.6" cy="1566.4" r="5.3" fill="#f09a48" fill-opacity="0.85"/>
<circle cx="1981.2" cy="1562.7" r="5.3" fill="#f09a48" fill-opacity="0.85"/>
<circle cx="1878.6" cy="1564.7" r="5.4" fill="#4f7fc0" fill-opacity="0.7"/>
<circle cx="1910.9" cy="1557.9" r="5.4" fill="#4f7fc0" fill-opacity="0.7"/>
<circle cx="1919.3" cy="1564.1" r="5.4" fill="#4f7fc0" fill-opacity="0.7"/>
<circle cx="1937.1" cy="1560.7" r="5.4" fill="#4f7fc0" fill-opacity="0.7"/>
<text x="1545.0" y="1568.6" font-size="20.37" text-anchor="end" fill="#4d4d4d">NRPS−like (TARA_SAMEA2623054_METAG−scaffold_652−biosynth_1)</text>
<line x1="1555.4" y1="1561.3" x2="1566.2" y2="1561.3" stroke="#333" stroke-width="2.4"/>
<circle cx="1681.1" cy="1590.4" r="5.7" fill="none" stroke="#eb9038" stroke-width="2.3" stroke-opacity="0.78"/>
<circle cx="1920.9" cy="1591.0" r="5.4" fill="#4f7fc0" fill-opacity="0.7"/>
<circle cx="1925.5" cy="1589.6" r="5.4" fill="#4f7fc0" fill-opacity="0.7"/>
<circle cx="1929.4" cy="1586.2" r="5.4" fill="#4f7fc0" fill-opacity="0.7"/>
<circle cx="1942.8" cy="1590.4" r="5.4" fill="#4f7fc0" fill-opacity="0.7"/>
<circle cx="1951.6" cy="1593.8" r="5.4" fill="#4f7fc0" fill-opacity="0.7"/>
<text x="1545.0" y="1597.7" font-size="20.37" text-anchor="end" fill="#4d4d4d">NRPS−like (TARA_SAMEA2623054_METAG−scaffold_332−biosynth_1)</text>
<line x1="1555.4" y1="1590.4" x2="1566.2" y2="1590.4" stroke="#333" stroke-width="2.4"/>
<circle cx="1681.1" cy="1613.9" r="5.7" fill="none" stroke="#eb9038" stroke-width="2.3" stroke-opacity="0.78"/>
<circle cx="1675.1" cy="1622.9" r="5.7" fill="none" stroke="#eb9038" stroke-width="2.3" stroke-opacity="0.78"/>
<circle cx="1893.1" cy="1620.6" r="5.4" fill="#4f7fc0" fill-opacity="0.7"/>
<circle cx="1901.9" cy="1613.9" r="5.4" fill="#4f7fc0" fill-opacity="0.7"/>
<circle cx="1912.8" cy="1624.3" r="5.4" fill="#4f7fc0" fill-opacity="0.7"/>
<circle cx="1919.7" cy="1624.3" r="5.4" fill="#4f7fc0" fill-opacity="0.7"/>
<circle cx="1925.7" cy="1613.9" r="5.4" fill="#4f7fc0" fill-opacity="0.7"/>
<text x="1545.0" y="1626.8" font-size="20.37" text-anchor="end" fill="#4d4d4d">NRPS−like (TARA_SAMEA2623054_METAG−scaffold_245−biosynth_1)</text>
<line x1="1555.4" y1="1619.5" x2="1566.2" y2="1619.5" stroke="#333" stroke-width="2.4"/>
<circle cx="1670.0" cy="1648.6" r="5.7" fill="none" stroke="#eb9038" stroke-width="2.3" stroke-opacity="0.78"/>
<circle cx="1674.7" cy="1649.2" r="5.7" fill="none" stroke="#eb9038" stroke-width="2.3" stroke-opacity="0.78"/>
<circle cx="1681.6" cy="1648.0" r="5.7" fill="none" stroke="#eb9038" stroke-width="2.3" stroke-opacity="0.78"/>
<circle cx="1706.6" cy="1653.4" r="5.7" fill="none" stroke="#eb9038" stroke-width="2.3" stroke-opacity="0.78"/>
<circle cx="1915.6" cy="1652.0" r="5.4" fill="#4f7fc0" fill-opacity="0.7"/>
<circle cx="1938.2" cy="1646.3" r="5.4" fill="#4f7fc0" fill-opacity="0.7"/>
<text x="1545.0" y="1655.9" font-size="20.37" text-anchor="end" fill="#4d4d4d">NRPS−like (TARA_SAMEA2623054_METAG−scaffold_172−biosynth_1)</text>
<line x1="1555.4" y1="1648.6" x2="1566.2" y2="1648.6" stroke="#333" stroke-width="2.4"/>
<circle cx="1670.0" cy="1681.7" r="5.7" fill="none" stroke="#eb9038" stroke-width="2.3" stroke-opacity="0.78"/>
<circle cx="1674.7" cy="1682.5" r="5.7" fill="none" stroke="#eb9038" stroke-width="2.3" stroke-opacity="0.78"/>
<circle cx="1681.6" cy="1675.4" r="5.7" fill="none" stroke="#eb9038" stroke-width="2.3" stroke-opacity="0.78"/>
<circle cx="1706.6" cy="1680.2" r="5.7" fill="none" stroke="#eb9038" stroke-width="2.3" stroke-opacity="0.78"/>
<circle cx="1915.1" cy="1673.5" r="5.4" fill="#4f7fc0" fill-opacity="0.7"/>
<circle cx="1918.6" cy="1674.0" r="5.4" fill="#4f7fc0" fill-opacity="0.7"/>
<circle cx="1929.7" cy="1679.1" r="5.4" fill="#4f7fc0" fill-opacity="0.7"/>
<text x="1545.0" y="1685.0" font-size="20.37" text-anchor="end" fill="#4d4d4d">microviridin (TARA_SAMEA2623054_METAG−scaffold_941−biosynth_1)</text>
<line x1="1555.4" y1="1677.7" x2="1566.2" y2="1677.7" stroke="#333" stroke-width="2.4"/>
<circle cx="1972.9" cy="1711.6" r="5.3" fill="#f09a48" fill-opacity="0.85"/>
<circle cx="1908.2" cy="1707.4" r="5.4" fill="#4f7fc0" fill-opacity="0.7"/>
<circle cx="1909.3" cy="1706.0" r="5.4" fill="#4f7fc0" fill-opacity="0.7"/>
<circle cx="1920.2" cy="1707.4" r="5.4" fill="#4f7fc0" fill-opacity="0.7"/>
<circle cx="1937.1" cy="1704.5" r="5.4" fill="#4f7fc0" fill-opacity="0.7"/>
<circle cx="1938.2" cy="1711.6" r="5.4" fill="#4f7fc0" fill-opacity="0.7"/>
<circle cx="1956.7" cy="1710.2" r="5.4" fill="#4f7fc0" fill-opacity="0.7"/>
<text x="1545.0" y="1714.1" font-size="20.37" text-anchor="end" fill="#4d4d4d">microviridin (TARA_SAMEA2623054_METAG−scaffold_3088−biosynth_1)</text>
<line x1="1555.4" y1="1706.8" x2="1566.2" y2="1706.8" stroke="#333" stroke-width="2.4"/>
<circle cx="1670.0" cy="1737.3" r="5.7" fill="none" stroke="#eb9038" stroke-width="2.3" stroke-opacity="0.78"/>
<circle cx="1674.7" cy="1738.2" r="5.7" fill="none" stroke="#eb9038" stroke-width="2.3" stroke-opacity="0.78"/>
<circle cx="1681.6" cy="1741.0" r="5.7" fill="none" stroke="#eb9038" stroke-width="2.3" stroke-opacity="0.78"/>
<circle cx="1704.7" cy="1733.9" r="5.7" fill="none" stroke="#eb9038" stroke-width="2.3" stroke-opacity="0.78"/>
<circle cx="1706.6" cy="1738.2" r="5.7" fill="none" stroke="#eb9038" stroke-width="2.3" stroke-opacity="0.78"/>
<circle cx="1708.2" cy="1735.3" r="5.7" fill="none" stroke="#eb9038" stroke-width="2.3" stroke-opacity="0.78"/>
<circle cx="1811.8" cy="1740.1" r="5.3" fill="#f09a48" fill-opacity="0.85"/>
<circle cx="1941.9" cy="1733.4" r="5.4" fill="#4f7fc0" fill-opacity="0.7"/>
<text x="1545.0" y="1743.2" font-size="20.37" text-anchor="end" fill="#4d4d4d">lassopeptide (TARA_SAMEA2623054_METAG−scaffold_560−biosynth_1)</text>
<line x1="1555.4" y1="1735.9" x2="1566.2" y2="1735.9" stroke="#333" stroke-width="2.4"/>
<circle cx="1674.7" cy="1768.4" r="5.7" fill="none" stroke="#eb9038" stroke-width="2.3" stroke-opacity="0.78"/>
<circle cx="1681.6" cy="1766.4" r="5.7" fill="none" stroke="#eb9038" stroke-width="2.3" stroke-opacity="0.78"/>
<circle cx="1984.2" cy="1762.2" r="5.3" fill="#f09a48" fill-opacity="0.85"/>
<circle cx="1922.0" cy="1767.8" r="5.4" fill="#4f7fc0" fill-opacity="0.7"/>
<circle cx="1923.7" cy="1766.4" r="5.4" fill="#4f7fc0" fill-opacity="0.7"/>
<circle cx="1937.5" cy="1769.8" r="5.4" fill="#4f7fc0" fill-opacity="0.7"/>
<circle cx="1948.9" cy="1768.4" r="5.4" fill="#4f7fc0" fill-opacity="0.7"/>
<text x="1545.0" y="1772.3" font-size="20.37" text-anchor="end" fill="#4d4d4d">lassopeptide (TARA_SAMEA2623054_METAG−scaffold_316−biosynth_1)</text>
<line x1="1555.4" y1="1765.0" x2="1566.2" y2="1765.0" stroke="#333" stroke-width="2.4"/>
<circle cx="1675.6" cy="1790.0" r="5.7" fill="none" stroke="#eb9038" stroke-width="2.3" stroke-opacity="0.78"/>
<circle cx="1681.1" cy="1799.6" r="5.7" fill="none" stroke="#eb9038" stroke-width="2.3" stroke-opacity="0.78"/>
<circle cx="1876.3" cy="1797.6" r="5.4" fill="#4f7fc0" fill-opacity="0.7"/>
<circle cx="1911.6" cy="1790.5" r="5.4" fill="#4f7fc0" fill-opacity="0.7"/>
<circle cx="1922.0" cy="1799.6" r="5.4" fill="#4f7fc0" fill-opacity="0.7"/>
<circle cx="1938.2" cy="1791.1" r="5.4" fill="#4f7fc0" fill-opacity="0.7"/>
<circle cx="1939.4" cy="1790.0" r="5.4" fill="#4f7fc0" fill-opacity="0.7"/>
<text x="1545.0" y="1801.5" font-size="20.37" text-anchor="end" fill="#4d4d4d">hglE−KS (TARA_SAMEA2623054_METAG−scaffold_1177−biosynth_1)</text>
<line x1="1555.4" y1="1794.2" x2="1566.2" y2="1794.2" stroke="#333" stroke-width="2.4"/>
<circle cx="1681.1" cy="1827.0" r="5.7" fill="none" stroke="#eb9038" stroke-width="2.3" stroke-opacity="0.78"/>
<circle cx="1706.6" cy="1819.9" r="5.7" fill="none" stroke="#eb9038" stroke-width="2.3" stroke-opacity="0.78"/>
<circle cx="1905.2" cy="1820.8" r="5.4" fill="#4f7fc0" fill-opacity="0.7"/>
<circle cx="1923.7" cy="1822.7" r="5.4" fill="#4f7fc0" fill-opacity="0.7"/>
<circle cx="1930.6" cy="1817.1" r="5.4" fill="#4f7fc0" fill-opacity="0.7"/>
<circle cx="1950.2" cy="1825.6" r="5.4" fill="#4f7fc0" fill-opacity="0.7"/>
<text x="1545.0" y="1830.6" font-size="20.37" text-anchor="end" fill="#4d4d4d">ectoine (TARA_SAMEA2623054_METAG−scaffold_433−biosynth_1)</text>
<line x1="1555.4" y1="1823.3" x2="1566.2" y2="1823.3" stroke="#333" stroke-width="2.4"/>
<line x1="1568.3" y1="1840.9" x2="1568.3" y2="1850.8" stroke="#333" stroke-width="2.4"/>
<text x="1568.3" y="1876.0" font-size="20.3" text-anchor="middle" fill="#4d4d4d">−15</text>
<line x1="1683.9" y1="1840.9" x2="1683.9" y2="1850.8" stroke="#333" stroke-width="2.4"/>
<text x="1683.9" y="1876.0" font-size="20.3" text-anchor="middle" fill="#4d4d4d">−10</text>
<line x1="1799.5" y1="1840.9" x2="1799.5" y2="1850.8" stroke="#333" stroke-width="2.4"/>
<text x="1799.5" y="1876.0" font-size="20.3" text-anchor="middle" fill="#4d4d4d">−5</text>
<line x1="1915.1" y1="1840.9" x2="1915.1" y2="1850.8" stroke="#333" stroke-width="2.4"/>
<text x="1915.1" y="1876.0" font-size="20.3" text-anchor="middle" fill="#4d4d4d">0</text>
<line x1="2030.7" y1="1840.9" x2="2030.7" y2="1850.8" stroke="#333" stroke-width="2.4"/>
<text x="2030.7" y="1876.0" font-size="20.3" text-anchor="middle" fill="#4d4d4d">5</text>
<text x="1845.0" y="1905.7" font-size="20.37" text-anchor="middle">Median expression rate per sample (log2)</text>
<text x="1845.4" y="1927.5" font-size="20.37" text-anchor="middle">(0 Indicates values similar to housekeeping genes)</text>
<text x="1258.6" y="1309.8" font-size="24.45"><tspan font-style="italic">Ca.</tspan> Amphithoemicrobium mesopelagicum</text>
</svg>
</body></html>
